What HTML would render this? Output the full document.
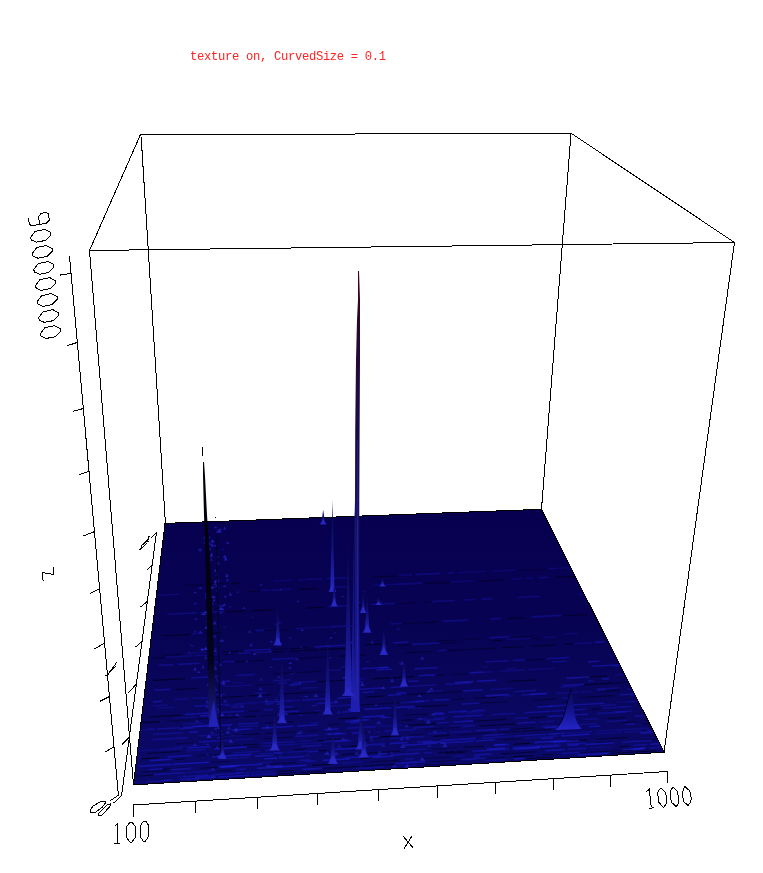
<!DOCTYPE html>
<html><head><meta charset="utf-8"><style>
html,body{margin:0;padding:0;background:#fff;}
body{width:763px;height:873px;overflow:hidden;position:relative;}
.t{position:absolute;left:190px;top:50px;will-change:transform;font-family:"Liberation Mono",monospace;font-size:12.2px;letter-spacing:-0.32px;color:#ff2222;white-space:pre;line-height:14px;}
svg{position:absolute;left:0;top:0;}
</style></head><body>
<svg width="763" height="873" viewBox="0 0 763 873">
<defs>
<linearGradient id="gPlane" x1="0" y1="0" x2="0" y2="1"><stop offset="0" stop-color="#06004f"/><stop offset="0.4" stop-color="#070352"/><stop offset="1" stop-color="#0b0a6a"/></linearGradient>
<linearGradient id="gMain" x1="0" y1="0" x2="0" y2="1"><stop offset="0" stop-color="#3a0018"/><stop offset="0.15" stop-color="#280830"/><stop offset="0.4" stop-color="#160c50"/><stop offset="0.6" stop-color="#161470"/><stop offset="0.75" stop-color="#14148e"/><stop offset="1" stop-color="#1e1eb4"/></linearGradient>
<linearGradient id="gDark" x1="0" y1="0" x2="0" y2="1"><stop offset="0" stop-color="#050520"/><stop offset="0.7" stop-color="#10106a"/><stop offset="1" stop-color="#2424b0"/></linearGradient>
<linearGradient id="gBlack" x1="0" y1="0" x2="0" y2="1"><stop offset="0" stop-color="#000008"/><stop offset="0.75" stop-color="#03031a"/><stop offset="1" stop-color="#1a1a90"/></linearGradient>
<linearGradient id="gLite" x1="0" y1="0" x2="0" y2="1"><stop offset="0" stop-color="#08084a"/><stop offset="0.55" stop-color="#12127e"/><stop offset="1" stop-color="#2626c0"/></linearGradient>
<linearGradient id="gCone" x1="0" y1="0" x2="0" y2="1"><stop offset="0" stop-color="#08084a"/><stop offset="0.5" stop-color="#12128a"/><stop offset="1" stop-color="#2424c8"/></linearGradient>
</defs>
<defs><clipPath id="cp"><polygon points="165,523.4 541.4,509.3 664,752.2 133.5,784.9"/></clipPath></defs>
<polygon points="165,523.4 541.4,509.3 664,752.2 133.5,784.9" fill="url(#gPlane)"/>
<g clip-path="url(#cp)" stroke-width="1.6">
<line x1="185.8" y1="585.4" x2="203.6" y2="584.6" stroke="#00001a" stroke-opacity="0.43" stroke-width="1.1"/><line x1="207.8" y1="584.4" x2="228.3" y2="583.5" stroke="#00001a" stroke-opacity="0.39" stroke-width="1.1"/><line x1="230.8" y1="583.4" x2="239.1" y2="583.0" stroke="#00001a" stroke-opacity="0.66" stroke-width="1.1"/><line x1="273.4" y1="581.0" x2="293.6" y2="580.0" stroke="#1c1cd0" stroke-opacity="0.20"/><line x1="297.9" y1="579.9" x2="305.5" y2="579.5" stroke="#1c1cd0" stroke-opacity="0.23"/><line x1="305.8" y1="579.5" x2="322.5" y2="578.7" stroke="#1c1cd0" stroke-opacity="0.30"/><line x1="326.8" y1="578.6" x2="347.6" y2="577.6" stroke="#1c1cd0" stroke-opacity="0.28"/><line x1="372.1" y1="577.0" x2="397.4" y2="575.9" stroke="#00001a" stroke-opacity="0.49" stroke-width="1.1"/><line x1="399.3" y1="575.3" x2="412.1" y2="574.7" stroke="#1c1cd0" stroke-opacity="0.29"/><line x1="415.4" y1="574.6" x2="440.8" y2="573.4" stroke="#1c1cd0" stroke-opacity="0.31"/><line x1="447.8" y1="573.1" x2="454.0" y2="572.8" stroke="#1c1cd0" stroke-opacity="0.31"/><line x1="457.9" y1="572.7" x2="486.4" y2="571.4" stroke="#1c1cd0" stroke-opacity="0.21"/><line x1="491.6" y1="571.2" x2="515.5" y2="570.1" stroke="#1c1cd0" stroke-opacity="0.21"/><line x1="518.3" y1="570.5" x2="546.4" y2="569.2" stroke="#00001a" stroke-opacity="0.40" stroke-width="1.1"/><line x1="548.4" y1="568.6" x2="556.9" y2="568.2" stroke="#1c1cd0" stroke-opacity="0.30"/><line x1="558.4" y1="568.2" x2="570.8" y2="567.6" stroke="#1c1cd0" stroke-opacity="0.22"/><line x1="158.0" y1="595.2" x2="179.1" y2="594.3" stroke="#1c1cd0" stroke-opacity="0.26"/><line x1="246.3" y1="591.7" x2="258.5" y2="591.1" stroke="#00001a" stroke-opacity="0.50" stroke-width="1.1"/><line x1="261.0" y1="590.5" x2="269.0" y2="590.1" stroke="#1c1cd0" stroke-opacity="0.28"/><line x1="271.0" y1="590.1" x2="291.1" y2="589.1" stroke="#1c1cd0" stroke-opacity="0.26"/><line x1="299.2" y1="589.3" x2="316.6" y2="588.5" stroke="#00001a" stroke-opacity="0.74" stroke-width="1.1"/><line x1="334.8" y1="587.1" x2="346.8" y2="586.6" stroke="#1c1cd0" stroke-opacity="0.30"/><line x1="372.9" y1="585.4" x2="393.1" y2="584.5" stroke="#1c1cd0" stroke-opacity="0.21"/><line x1="393.4" y1="584.4" x2="421.9" y2="583.1" stroke="#1c1cd0" stroke-opacity="0.30"/><line x1="424.0" y1="583.5" x2="449.3" y2="582.4" stroke="#00001a" stroke-opacity="0.48" stroke-width="1.1"/><line x1="450.7" y1="581.8" x2="473.6" y2="580.8" stroke="#1c1cd0" stroke-opacity="0.23"/><line x1="478.3" y1="581.0" x2="504.2" y2="579.9" stroke="#00001a" stroke-opacity="0.48" stroke-width="1.1"/><line x1="511.9" y1="579.0" x2="522.9" y2="578.5" stroke="#1c1cd0" stroke-opacity="0.24"/><line x1="526.6" y1="578.3" x2="534.3" y2="578.0" stroke="#1c1cd0" stroke-opacity="0.25"/><line x1="539.1" y1="577.8" x2="548.4" y2="577.3" stroke="#1c1cd0" stroke-opacity="0.32"/><line x1="556.6" y1="577.4" x2="575.1" y2="576.6" stroke="#00001a" stroke-opacity="0.61" stroke-width="1.1"/><line x1="167.3" y1="614.3" x2="196.6" y2="612.9" stroke="#1c1cd0" stroke-opacity="0.31"/><line x1="200.7" y1="612.7" x2="224.5" y2="611.5" stroke="#1c1cd0" stroke-opacity="0.37"/><line x1="225.1" y1="612.0" x2="244.5" y2="611.1" stroke="#00001a" stroke-opacity="0.76" stroke-width="1.1"/><line x1="250.8" y1="610.8" x2="274.0" y2="609.7" stroke="#00001a" stroke-opacity="0.76" stroke-width="1.1"/><line x1="307.2" y1="608.1" x2="323.5" y2="607.3" stroke="#00001a" stroke-opacity="0.74" stroke-width="1.1"/><line x1="328.4" y1="606.6" x2="349.7" y2="605.6" stroke="#1c1cd0" stroke-opacity="0.30"/><line x1="354.9" y1="605.8" x2="363.3" y2="605.4" stroke="#00001a" stroke-opacity="0.80" stroke-width="1.1"/><line x1="370.8" y1="604.5" x2="394.5" y2="603.4" stroke="#1c1cd0" stroke-opacity="0.33"/><line x1="399.5" y1="603.7" x2="416.4" y2="602.9" stroke="#00001a" stroke-opacity="0.39" stroke-width="1.1"/><line x1="422.9" y1="602.5" x2="430.0" y2="602.2" stroke="#00001a" stroke-opacity="0.57" stroke-width="1.1"/><line x1="432.0" y1="601.6" x2="455.0" y2="600.5" stroke="#1c1cd0" stroke-opacity="0.31"/><line x1="462.9" y1="600.1" x2="475.4" y2="599.5" stroke="#1c1cd0" stroke-opacity="0.25"/><line x1="481.2" y1="599.3" x2="492.5" y2="598.7" stroke="#1c1cd0" stroke-opacity="0.36"/><line x1="517.9" y1="597.5" x2="540.1" y2="596.4" stroke="#1c1cd0" stroke-opacity="0.28"/><line x1="578.5" y1="594.6" x2="584.3" y2="594.3" stroke="#1c1cd0" stroke-opacity="0.22"/><line x1="162.6" y1="635.8" x2="189.9" y2="634.4" stroke="#00001a" stroke-opacity="0.78" stroke-width="1.1"/><line x1="192.3" y1="633.8" x2="203.1" y2="633.3" stroke="#1c1cd0" stroke-opacity="0.26"/><line x1="205.0" y1="633.7" x2="221.7" y2="632.8" stroke="#00001a" stroke-opacity="0.57" stroke-width="1.1"/><line x1="255.6" y1="630.6" x2="264.0" y2="630.2" stroke="#1c1cd0" stroke-opacity="0.39"/><line x1="264.4" y1="630.7" x2="288.3" y2="629.5" stroke="#00001a" stroke-opacity="0.49" stroke-width="1.1"/><line x1="295.3" y1="628.7" x2="302.4" y2="628.3" stroke="#1c1cd0" stroke-opacity="0.30"/><line x1="302.6" y1="628.3" x2="329.5" y2="627.0" stroke="#1c1cd0" stroke-opacity="0.23"/><line x1="329.9" y1="626.9" x2="351.8" y2="625.8" stroke="#1c1cd0" stroke-opacity="0.34"/><line x1="390.0" y1="623.9" x2="401.5" y2="623.4" stroke="#1c1cd0" stroke-opacity="0.24"/><line x1="401.6" y1="623.9" x2="419.7" y2="623.0" stroke="#00001a" stroke-opacity="0.43" stroke-width="1.1"/><line x1="422.1" y1="622.8" x2="437.2" y2="622.1" stroke="#00001a" stroke-opacity="0.58" stroke-width="1.1"/><line x1="442.6" y1="621.3" x2="467.7" y2="620.1" stroke="#1c1cd0" stroke-opacity="0.37"/><line x1="490.9" y1="618.9" x2="500.7" y2="618.4" stroke="#1c1cd0" stroke-opacity="0.33"/><line x1="508.7" y1="618.5" x2="524.5" y2="617.7" stroke="#00001a" stroke-opacity="0.75" stroke-width="1.1"/><line x1="531.6" y1="616.9" x2="561.2" y2="615.4" stroke="#1c1cd0" stroke-opacity="0.34"/><line x1="563.0" y1="615.8" x2="587.2" y2="614.6" stroke="#00001a" stroke-opacity="0.64" stroke-width="1.1"/><line x1="162.4" y1="655.3" x2="182.6" y2="654.2" stroke="#00001a" stroke-opacity="0.49" stroke-width="1.1"/><line x1="190.9" y1="653.3" x2="219.1" y2="651.8" stroke="#1c1cd0" stroke-opacity="0.22"/><line x1="223.1" y1="652.1" x2="243.7" y2="651.1" stroke="#00001a" stroke-opacity="0.57" stroke-width="1.1"/><line x1="243.9" y1="650.6" x2="270.9" y2="649.2" stroke="#1c1cd0" stroke-opacity="0.40"/><line x1="272.5" y1="649.6" x2="287.7" y2="648.8" stroke="#00001a" stroke-opacity="0.41" stroke-width="1.1"/><line x1="289.1" y1="648.7" x2="308.8" y2="647.7" stroke="#00001a" stroke-opacity="0.73" stroke-width="1.1"/><line x1="315.0" y1="646.9" x2="345.5" y2="645.3" stroke="#1c1cd0" stroke-opacity="0.44"/><line x1="346.3" y1="645.8" x2="358.6" y2="645.1" stroke="#00001a" stroke-opacity="0.48" stroke-width="1.1"/><line x1="365.2" y1="644.8" x2="388.0" y2="643.6" stroke="#00001a" stroke-opacity="0.73" stroke-width="1.1"/><line x1="393.1" y1="642.8" x2="407.7" y2="642.1" stroke="#1c1cd0" stroke-opacity="0.41"/><line x1="436.7" y1="641.1" x2="456.6" y2="640.1" stroke="#00001a" stroke-opacity="0.44" stroke-width="1.1"/><line x1="461.5" y1="639.8" x2="480.8" y2="638.8" stroke="#00001a" stroke-opacity="0.36" stroke-width="1.1"/><line x1="489.6" y1="637.8" x2="509.3" y2="636.8" stroke="#1c1cd0" stroke-opacity="0.40"/><line x1="514.5" y1="637.1" x2="533.5" y2="636.1" stroke="#00001a" stroke-opacity="0.38" stroke-width="1.1"/><line x1="564.0" y1="634.0" x2="577.5" y2="633.3" stroke="#1c1cd0" stroke-opacity="0.23"/><line x1="153.1" y1="658.3" x2="164.8" y2="657.7" stroke="#00001a" stroke-opacity="0.77" stroke-width="1.1"/><line x1="165.9" y1="657.2" x2="192.3" y2="655.8" stroke="#1c1cd0" stroke-opacity="0.25"/><line x1="194.4" y1="655.7" x2="218.4" y2="654.5" stroke="#1c1cd0" stroke-opacity="0.29"/><line x1="224.1" y1="654.7" x2="233.5" y2="654.2" stroke="#00001a" stroke-opacity="0.41" stroke-width="1.1"/><line x1="238.2" y1="653.4" x2="251.3" y2="652.7" stroke="#1c1cd0" stroke-opacity="0.34"/><line x1="255.3" y1="652.5" x2="271.6" y2="651.7" stroke="#1c1cd0" stroke-opacity="0.34"/><line x1="273.0" y1="652.1" x2="285.0" y2="651.5" stroke="#00001a" stroke-opacity="0.64" stroke-width="1.1"/><line x1="289.8" y1="651.2" x2="318.0" y2="649.8" stroke="#00001a" stroke-opacity="0.74" stroke-width="1.1"/><line x1="320.1" y1="649.7" x2="345.5" y2="648.4" stroke="#00001a" stroke-opacity="0.76" stroke-width="1.1"/><line x1="398.2" y1="645.6" x2="411.0" y2="644.9" stroke="#00001a" stroke-opacity="0.47" stroke-width="1.1"/><line x1="411.9" y1="644.4" x2="439.6" y2="643.0" stroke="#1c1cd0" stroke-opacity="0.40"/><line x1="440.7" y1="643.4" x2="457.7" y2="642.5" stroke="#00001a" stroke-opacity="0.36" stroke-width="1.1"/><line x1="492.3" y1="640.7" x2="502.0" y2="640.2" stroke="#00001a" stroke-opacity="0.69" stroke-width="1.1"/><line x1="506.6" y1="639.5" x2="530.6" y2="638.2" stroke="#1c1cd0" stroke-opacity="0.22"/><line x1="531.6" y1="638.7" x2="539.4" y2="638.3" stroke="#00001a" stroke-opacity="0.58" stroke-width="1.1"/><line x1="544.5" y1="637.5" x2="555.0" y2="637.0" stroke="#1c1cd0" stroke-opacity="0.25"/><line x1="158.4" y1="665.4" x2="173.6" y2="664.6" stroke="#1c1cd0" stroke-opacity="0.34"/><line x1="177.5" y1="664.4" x2="199.7" y2="663.2" stroke="#1c1cd0" stroke-opacity="0.39"/><line x1="207.4" y1="662.8" x2="218.9" y2="662.2" stroke="#1c1cd0" stroke-opacity="0.40"/><line x1="222.7" y1="662.0" x2="234.5" y2="661.4" stroke="#1c1cd0" stroke-opacity="0.34"/><line x1="234.6" y1="661.8" x2="264.2" y2="660.3" stroke="#00001a" stroke-opacity="0.67" stroke-width="1.1"/><line x1="272.1" y1="659.4" x2="294.9" y2="658.2" stroke="#1c1cd0" stroke-opacity="0.36"/><line x1="299.6" y1="658.4" x2="331.4" y2="656.8" stroke="#00001a" stroke-opacity="0.47" stroke-width="1.1"/><line x1="339.8" y1="656.3" x2="365.5" y2="655.0" stroke="#00001a" stroke-opacity="0.72" stroke-width="1.1"/><line x1="405.3" y1="652.9" x2="431.6" y2="651.5" stroke="#00001a" stroke-opacity="0.53" stroke-width="1.1"/><line x1="438.2" y1="650.6" x2="446.9" y2="650.2" stroke="#1c1cd0" stroke-opacity="0.33"/><line x1="447.0" y1="650.7" x2="462.9" y2="649.8" stroke="#00001a" stroke-opacity="0.63" stroke-width="1.1"/><line x1="465.1" y1="649.7" x2="495.9" y2="648.1" stroke="#00001a" stroke-opacity="0.50" stroke-width="1.1"/><line x1="502.0" y1="647.8" x2="523.3" y2="646.7" stroke="#00001a" stroke-opacity="0.53" stroke-width="1.1"/><line x1="532.5" y1="646.2" x2="555.7" y2="644.9" stroke="#00001a" stroke-opacity="0.69" stroke-width="1.1"/><line x1="564.7" y1="644.5" x2="572.2" y2="644.1" stroke="#00001a" stroke-opacity="0.68" stroke-width="1.1"/><line x1="574.6" y1="643.5" x2="591.6" y2="642.6" stroke="#1c1cd0" stroke-opacity="0.25"/><line x1="595.1" y1="642.4" x2="604.5" y2="641.9" stroke="#1c1cd0" stroke-opacity="0.45"/><line x1="153.2" y1="680.4" x2="185.2" y2="678.7" stroke="#00001a" stroke-opacity="0.80" stroke-width="1.1"/><line x1="191.2" y1="677.9" x2="219.1" y2="676.4" stroke="#1c1cd0" stroke-opacity="0.38"/><line x1="235.9" y1="675.5" x2="255.1" y2="674.4" stroke="#1c1cd0" stroke-opacity="0.35"/><line x1="273.3" y1="673.9" x2="294.0" y2="672.8" stroke="#00001a" stroke-opacity="0.51" stroke-width="1.1"/><line x1="296.6" y1="672.7" x2="320.6" y2="671.4" stroke="#00001a" stroke-opacity="0.48" stroke-width="1.1"/><line x1="327.3" y1="670.5" x2="341.9" y2="669.7" stroke="#1c1cd0" stroke-opacity="0.27"/><line x1="342.3" y1="670.2" x2="353.4" y2="669.6" stroke="#00001a" stroke-opacity="0.53" stroke-width="1.1"/><line x1="361.8" y1="668.7" x2="388.2" y2="667.3" stroke="#1c1cd0" stroke-opacity="0.50"/><line x1="485.7" y1="662.0" x2="508.3" y2="660.8" stroke="#1c1cd0" stroke-opacity="0.39"/><line x1="512.6" y1="660.6" x2="524.8" y2="659.9" stroke="#1c1cd0" stroke-opacity="0.36"/><line x1="526.0" y1="660.3" x2="544.5" y2="659.3" stroke="#00001a" stroke-opacity="0.55" stroke-width="1.1"/><line x1="546.9" y1="658.7" x2="569.0" y2="657.5" stroke="#1c1cd0" stroke-opacity="0.43"/><line x1="613.6" y1="655.1" x2="615.0" y2="655.0" stroke="#1c1cd0" stroke-opacity="0.47"/><line x1="153.7" y1="690.3" x2="170.3" y2="689.4" stroke="#1c1cd0" stroke-opacity="0.42"/><line x1="175.6" y1="689.6" x2="198.2" y2="688.3" stroke="#00001a" stroke-opacity="0.69" stroke-width="1.1"/><line x1="222.3" y1="686.5" x2="252.4" y2="684.9" stroke="#1c1cd0" stroke-opacity="0.22"/><line x1="255.0" y1="685.2" x2="273.2" y2="684.2" stroke="#00001a" stroke-opacity="0.40" stroke-width="1.1"/><line x1="278.4" y1="683.4" x2="287.4" y2="683.0" stroke="#1c1cd0" stroke-opacity="0.42"/><line x1="292.6" y1="682.7" x2="316.2" y2="681.4" stroke="#1c1cd0" stroke-opacity="0.35"/><line x1="318.2" y1="681.8" x2="334.3" y2="680.9" stroke="#00001a" stroke-opacity="0.73" stroke-width="1.1"/><line x1="335.1" y1="680.8" x2="345.3" y2="680.3" stroke="#00001a" stroke-opacity="0.63" stroke-width="1.1"/><line x1="352.6" y1="679.4" x2="365.3" y2="678.7" stroke="#1c1cd0" stroke-opacity="0.28"/><line x1="373.0" y1="678.8" x2="389.8" y2="677.9" stroke="#00001a" stroke-opacity="0.80" stroke-width="1.1"/><line x1="392.9" y1="677.7" x2="414.3" y2="676.5" stroke="#00001a" stroke-opacity="0.76" stroke-width="1.1"/><line x1="418.4" y1="675.8" x2="435.2" y2="674.9" stroke="#1c1cd0" stroke-opacity="0.48"/><line x1="435.9" y1="675.3" x2="445.2" y2="674.8" stroke="#00001a" stroke-opacity="0.57" stroke-width="1.1"/><line x1="451.7" y1="674.5" x2="466.6" y2="673.6" stroke="#00001a" stroke-opacity="0.38" stroke-width="1.1"/><line x1="468.7" y1="673.0" x2="493.1" y2="671.7" stroke="#1c1cd0" stroke-opacity="0.30"/><line x1="500.0" y1="671.3" x2="525.2" y2="669.9" stroke="#1c1cd0" stroke-opacity="0.25"/><line x1="528.6" y1="669.8" x2="554.7" y2="668.3" stroke="#1c1cd0" stroke-opacity="0.24"/><line x1="592.4" y1="666.3" x2="619.9" y2="664.8" stroke="#1c1cd0" stroke-opacity="0.46"/><line x1="174.6" y1="699.5" x2="188.4" y2="698.7" stroke="#1c1cd0" stroke-opacity="0.32"/><line x1="191.9" y1="698.5" x2="209.5" y2="697.6" stroke="#1c1cd0" stroke-opacity="0.27"/><line x1="215.0" y1="697.8" x2="243.3" y2="696.2" stroke="#00001a" stroke-opacity="0.73" stroke-width="1.1"/><line x1="248.7" y1="695.9" x2="260.6" y2="695.2" stroke="#00001a" stroke-opacity="0.75" stroke-width="1.1"/><line x1="263.3" y1="695.1" x2="271.1" y2="694.6" stroke="#00001a" stroke-opacity="0.59" stroke-width="1.1"/><line x1="276.6" y1="694.3" x2="309.4" y2="692.5" stroke="#00001a" stroke-opacity="0.71" stroke-width="1.1"/><line x1="310.0" y1="692.5" x2="331.7" y2="691.3" stroke="#00001a" stroke-opacity="0.39" stroke-width="1.1"/><line x1="360.0" y1="689.2" x2="384.0" y2="687.9" stroke="#1c1cd0" stroke-opacity="0.45"/><line x1="390.2" y1="687.5" x2="404.0" y2="686.7" stroke="#1c1cd0" stroke-opacity="0.46"/><line x1="409.0" y1="686.5" x2="436.4" y2="684.9" stroke="#1c1cd0" stroke-opacity="0.31"/><line x1="445.7" y1="684.4" x2="470.8" y2="683.0" stroke="#1c1cd0" stroke-opacity="0.38"/><line x1="507.6" y1="681.5" x2="536.7" y2="679.9" stroke="#00001a" stroke-opacity="0.73" stroke-width="1.1"/><line x1="582.9" y1="677.3" x2="607.1" y2="676.0" stroke="#00001a" stroke-opacity="0.67" stroke-width="1.1"/><line x1="614.8" y1="675.0" x2="624.8" y2="674.5" stroke="#1c1cd0" stroke-opacity="0.25"/><line x1="157.1" y1="708.3" x2="174.4" y2="707.3" stroke="#1c1cd0" stroke-opacity="0.27"/><line x1="194.2" y1="706.2" x2="209.7" y2="705.3" stroke="#1c1cd0" stroke-opacity="0.43"/><line x1="217.3" y1="704.9" x2="229.3" y2="704.2" stroke="#1c1cd0" stroke-opacity="0.36"/><line x1="235.0" y1="703.9" x2="266.6" y2="702.1" stroke="#1c1cd0" stroke-opacity="0.24"/><line x1="268.4" y1="702.0" x2="281.5" y2="701.3" stroke="#1c1cd0" stroke-opacity="0.45"/><line x1="287.3" y1="700.9" x2="300.5" y2="700.2" stroke="#1c1cd0" stroke-opacity="0.30"/><line x1="302.2" y1="700.1" x2="329.7" y2="698.5" stroke="#1c1cd0" stroke-opacity="0.39"/><line x1="337.7" y1="698.1" x2="357.8" y2="697.0" stroke="#1c1cd0" stroke-opacity="0.52"/><line x1="366.7" y1="697.0" x2="383.1" y2="696.0" stroke="#00001a" stroke-opacity="0.78" stroke-width="1.1"/><line x1="387.8" y1="695.3" x2="401.0" y2="694.5" stroke="#1c1cd0" stroke-opacity="0.54"/><line x1="408.8" y1="694.6" x2="426.3" y2="693.6" stroke="#00001a" stroke-opacity="0.58" stroke-width="1.1"/><line x1="429.0" y1="693.5" x2="462.7" y2="691.6" stroke="#00001a" stroke-opacity="0.46" stroke-width="1.1"/><line x1="462.9" y1="691.1" x2="482.8" y2="689.9" stroke="#1c1cd0" stroke-opacity="0.48"/><line x1="489.7" y1="689.6" x2="513.2" y2="688.2" stroke="#1c1cd0" stroke-opacity="0.26"/><line x1="562.4" y1="685.5" x2="584.0" y2="684.3" stroke="#1c1cd0" stroke-opacity="0.47"/><line x1="584.0" y1="684.8" x2="613.3" y2="683.1" stroke="#00001a" stroke-opacity="0.72" stroke-width="1.1"/><line x1="614.1" y1="683.1" x2="628.4" y2="682.3" stroke="#00001a" stroke-opacity="0.39" stroke-width="1.1"/><line x1="148.6" y1="717.0" x2="181.7" y2="715.1" stroke="#00001a" stroke-opacity="0.74" stroke-width="1.1"/><line x1="184.7" y1="714.5" x2="213.3" y2="712.8" stroke="#1c1cd0" stroke-opacity="0.54"/><line x1="214.2" y1="712.8" x2="243.9" y2="711.1" stroke="#1c1cd0" stroke-opacity="0.40"/><line x1="249.0" y1="711.3" x2="260.6" y2="710.7" stroke="#00001a" stroke-opacity="0.49" stroke-width="1.1"/><line x1="263.7" y1="710.0" x2="273.1" y2="709.4" stroke="#1c1cd0" stroke-opacity="0.37"/><line x1="280.1" y1="709.5" x2="297.2" y2="708.6" stroke="#00001a" stroke-opacity="0.40" stroke-width="1.1"/><line x1="329.0" y1="706.3" x2="354.0" y2="704.8" stroke="#1c1cd0" stroke-opacity="0.34"/><line x1="360.9" y1="705.0" x2="374.7" y2="704.2" stroke="#00001a" stroke-opacity="0.56" stroke-width="1.1"/><line x1="374.8" y1="704.2" x2="408.9" y2="702.2" stroke="#00001a" stroke-opacity="0.44" stroke-width="1.1"/><line x1="415.0" y1="701.4" x2="430.1" y2="700.5" stroke="#1c1cd0" stroke-opacity="0.40"/><line x1="433.1" y1="700.4" x2="449.5" y2="699.4" stroke="#1c1cd0" stroke-opacity="0.45"/><line x1="452.0" y1="699.8" x2="464.8" y2="699.1" stroke="#00001a" stroke-opacity="0.50" stroke-width="1.1"/><line x1="474.1" y1="698.5" x2="496.6" y2="697.2" stroke="#00001a" stroke-opacity="0.50" stroke-width="1.1"/><line x1="504.7" y1="696.3" x2="514.6" y2="695.7" stroke="#1c1cd0" stroke-opacity="0.23"/><line x1="521.2" y1="695.3" x2="547.7" y2="693.8" stroke="#1c1cd0" stroke-opacity="0.35"/><line x1="555.9" y1="693.4" x2="579.2" y2="692.1" stroke="#1c1cd0" stroke-opacity="0.28"/><line x1="580.8" y1="692.0" x2="591.5" y2="691.4" stroke="#1c1cd0" stroke-opacity="0.23"/><line x1="600.5" y1="691.3" x2="619.4" y2="690.3" stroke="#00001a" stroke-opacity="0.64" stroke-width="1.1"/><line x1="626.9" y1="689.3" x2="632.1" y2="689.0" stroke="#1c1cd0" stroke-opacity="0.32"/><line x1="141.3" y1="722.6" x2="159.6" y2="721.6" stroke="#00001a" stroke-opacity="0.79" stroke-width="1.1"/><line x1="167.4" y1="721.1" x2="192.7" y2="719.7" stroke="#00001a" stroke-opacity="0.36" stroke-width="1.1"/><line x1="196.0" y1="719.5" x2="212.6" y2="718.5" stroke="#00001a" stroke-opacity="0.40" stroke-width="1.1"/><line x1="216.4" y1="718.3" x2="237.6" y2="717.1" stroke="#00001a" stroke-opacity="0.72" stroke-width="1.1"/><line x1="243.6" y1="716.8" x2="255.3" y2="716.1" stroke="#00001a" stroke-opacity="0.76" stroke-width="1.1"/><line x1="260.7" y1="715.8" x2="277.7" y2="714.8" stroke="#00001a" stroke-opacity="0.41" stroke-width="1.1"/><line x1="284.8" y1="714.4" x2="318.9" y2="712.5" stroke="#00001a" stroke-opacity="0.67" stroke-width="1.1"/><line x1="346.1" y1="710.4" x2="358.9" y2="709.7" stroke="#1c1cd0" stroke-opacity="0.29"/><line x1="364.6" y1="709.4" x2="390.9" y2="707.8" stroke="#1c1cd0" stroke-opacity="0.55"/><line x1="394.5" y1="707.6" x2="414.5" y2="706.5" stroke="#1c1cd0" stroke-opacity="0.57"/><line x1="415.8" y1="706.9" x2="447.7" y2="705.1" stroke="#00001a" stroke-opacity="0.60" stroke-width="1.1"/><line x1="477.6" y1="703.4" x2="507.2" y2="701.7" stroke="#00001a" stroke-opacity="0.41" stroke-width="1.1"/><line x1="533.0" y1="700.2" x2="556.0" y2="698.9" stroke="#00001a" stroke-opacity="0.43" stroke-width="1.1"/><line x1="561.4" y1="698.1" x2="570.8" y2="697.6" stroke="#1c1cd0" stroke-opacity="0.27"/><line x1="580.6" y1="697.5" x2="613.5" y2="695.6" stroke="#00001a" stroke-opacity="0.49" stroke-width="1.1"/><line x1="620.1" y1="694.7" x2="634.6" y2="693.9" stroke="#1c1cd0" stroke-opacity="0.42"/><line x1="140.4" y1="730.0" x2="153.3" y2="729.2" stroke="#1c1cd0" stroke-opacity="0.26"/><line x1="157.1" y1="729.0" x2="180.2" y2="727.7" stroke="#1c1cd0" stroke-opacity="0.41"/><line x1="182.8" y1="727.5" x2="205.9" y2="726.2" stroke="#1c1cd0" stroke-opacity="0.45"/><line x1="206.3" y1="726.2" x2="232.1" y2="724.7" stroke="#1c1cd0" stroke-opacity="0.58"/><line x1="238.1" y1="724.3" x2="258.4" y2="723.1" stroke="#1c1cd0" stroke-opacity="0.45"/><line x1="265.3" y1="723.2" x2="293.6" y2="721.6" stroke="#00001a" stroke-opacity="0.57" stroke-width="1.1"/><line x1="338.0" y1="719.0" x2="357.3" y2="717.9" stroke="#00001a" stroke-opacity="0.76" stroke-width="1.1"/><line x1="362.6" y1="717.1" x2="384.4" y2="715.9" stroke="#1c1cd0" stroke-opacity="0.56"/><line x1="387.6" y1="716.2" x2="396.6" y2="715.7" stroke="#00001a" stroke-opacity="0.76" stroke-width="1.1"/><line x1="403.9" y1="715.2" x2="427.7" y2="713.9" stroke="#00001a" stroke-opacity="0.49" stroke-width="1.1"/><line x1="433.6" y1="713.0" x2="443.0" y2="712.5" stroke="#1c1cd0" stroke-opacity="0.38"/><line x1="448.0" y1="712.2" x2="466.4" y2="711.1" stroke="#1c1cd0" stroke-opacity="0.47"/><line x1="471.6" y1="710.8" x2="485.6" y2="710.0" stroke="#1c1cd0" stroke-opacity="0.36"/><line x1="536.9" y1="707.1" x2="566.4" y2="705.3" stroke="#1c1cd0" stroke-opacity="0.49"/><line x1="572.1" y1="705.0" x2="604.3" y2="703.2" stroke="#1c1cd0" stroke-opacity="0.51"/><line x1="627.7" y1="701.8" x2="638.3" y2="701.2" stroke="#1c1cd0" stroke-opacity="0.33"/><line x1="152.9" y1="734.4" x2="182.9" y2="732.7" stroke="#1c1cd0" stroke-opacity="0.34"/><line x1="188.8" y1="732.3" x2="197.6" y2="731.8" stroke="#1c1cd0" stroke-opacity="0.56"/><line x1="231.7" y1="729.8" x2="252.3" y2="728.7" stroke="#1c1cd0" stroke-opacity="0.32"/><line x1="261.5" y1="728.1" x2="293.8" y2="726.2" stroke="#1c1cd0" stroke-opacity="0.54"/><line x1="297.3" y1="726.0" x2="317.9" y2="724.8" stroke="#1c1cd0" stroke-opacity="0.56"/><line x1="327.8" y1="724.8" x2="340.9" y2="724.0" stroke="#00001a" stroke-opacity="0.44" stroke-width="1.1"/><line x1="349.8" y1="723.0" x2="358.7" y2="722.5" stroke="#1c1cd0" stroke-opacity="0.49"/><line x1="401.3" y1="720.5" x2="412.5" y2="719.8" stroke="#00001a" stroke-opacity="0.77" stroke-width="1.1"/><line x1="417.0" y1="719.1" x2="426.7" y2="718.5" stroke="#1c1cd0" stroke-opacity="0.32"/><line x1="433.8" y1="718.1" x2="446.7" y2="717.3" stroke="#1c1cd0" stroke-opacity="0.30"/><line x1="453.4" y1="716.9" x2="482.7" y2="715.2" stroke="#1c1cd0" stroke-opacity="0.47"/><line x1="491.6" y1="714.7" x2="515.3" y2="713.3" stroke="#1c1cd0" stroke-opacity="0.32"/><line x1="524.6" y1="712.8" x2="550.5" y2="711.3" stroke="#1c1cd0" stroke-opacity="0.46"/><line x1="551.4" y1="711.2" x2="586.1" y2="709.2" stroke="#1c1cd0" stroke-opacity="0.41"/><line x1="591.4" y1="709.4" x2="600.2" y2="708.9" stroke="#00001a" stroke-opacity="0.48" stroke-width="1.1"/><line x1="602.7" y1="708.3" x2="632.3" y2="706.5" stroke="#1c1cd0" stroke-opacity="0.32"/><line x1="639.9" y1="706.1" x2="640.7" y2="706.0" stroke="#1c1cd0" stroke-opacity="0.42"/><line x1="152.4" y1="739.7" x2="187.4" y2="737.6" stroke="#1c1cd0" stroke-opacity="0.39"/><line x1="218.2" y1="736.3" x2="230.8" y2="735.6" stroke="#00001a" stroke-opacity="0.64" stroke-width="1.1"/><line x1="234.4" y1="735.3" x2="260.2" y2="733.8" stroke="#00001a" stroke-opacity="0.58" stroke-width="1.1"/><line x1="265.3" y1="733.5" x2="296.4" y2="731.7" stroke="#00001a" stroke-opacity="0.58" stroke-width="1.1"/><line x1="305.9" y1="731.2" x2="318.3" y2="730.4" stroke="#00001a" stroke-opacity="0.42" stroke-width="1.1"/><line x1="324.5" y1="729.6" x2="338.6" y2="728.7" stroke="#1c1cd0" stroke-opacity="0.52"/><line x1="346.5" y1="728.3" x2="376.0" y2="726.6" stroke="#1c1cd0" stroke-opacity="0.40"/><line x1="378.2" y1="726.4" x2="401.9" y2="725.0" stroke="#1c1cd0" stroke-opacity="0.21"/><line x1="407.9" y1="725.2" x2="435.3" y2="723.6" stroke="#00001a" stroke-opacity="0.74" stroke-width="1.1"/><line x1="437.1" y1="723.0" x2="448.9" y2="722.3" stroke="#1c1cd0" stroke-opacity="0.41"/><line x1="453.3" y1="722.0" x2="473.1" y2="720.9" stroke="#1c1cd0" stroke-opacity="0.53"/><line x1="473.8" y1="721.3" x2="506.5" y2="719.4" stroke="#00001a" stroke-opacity="0.59" stroke-width="1.1"/><line x1="514.5" y1="718.4" x2="528.7" y2="717.6" stroke="#1c1cd0" stroke-opacity="0.33"/><line x1="529.1" y1="718.1" x2="545.4" y2="717.1" stroke="#00001a" stroke-opacity="0.59" stroke-width="1.1"/><line x1="548.1" y1="716.5" x2="572.0" y2="715.1" stroke="#1c1cd0" stroke-opacity="0.54"/><line x1="573.7" y1="715.0" x2="588.3" y2="714.1" stroke="#1c1cd0" stroke-opacity="0.49"/><line x1="596.7" y1="713.6" x2="626.1" y2="711.9" stroke="#1c1cd0" stroke-opacity="0.37"/><line x1="176.0" y1="743.9" x2="196.3" y2="742.8" stroke="#00001a" stroke-opacity="0.37" stroke-width="1.1"/><line x1="198.8" y1="742.1" x2="231.2" y2="740.2" stroke="#1c1cd0" stroke-opacity="0.37"/><line x1="234.2" y1="740.0" x2="253.7" y2="738.9" stroke="#1c1cd0" stroke-opacity="0.21"/><line x1="263.8" y1="738.8" x2="292.7" y2="737.1" stroke="#00001a" stroke-opacity="0.45" stroke-width="1.1"/><line x1="295.3" y1="736.4" x2="318.3" y2="735.1" stroke="#1c1cd0" stroke-opacity="0.40"/><line x1="327.7" y1="734.5" x2="345.5" y2="733.5" stroke="#1c1cd0" stroke-opacity="0.62"/><line x1="351.7" y1="733.1" x2="360.4" y2="732.6" stroke="#1c1cd0" stroke-opacity="0.48"/><line x1="361.0" y1="733.0" x2="378.2" y2="732.0" stroke="#00001a" stroke-opacity="0.74" stroke-width="1.1"/><line x1="384.2" y1="731.2" x2="416.6" y2="729.3" stroke="#1c1cd0" stroke-opacity="0.37"/><line x1="425.1" y1="729.3" x2="443.4" y2="728.2" stroke="#00001a" stroke-opacity="0.45" stroke-width="1.1"/><line x1="446.9" y1="728.0" x2="459.6" y2="727.2" stroke="#00001a" stroke-opacity="0.42" stroke-width="1.1"/><line x1="461.7" y1="726.6" x2="475.3" y2="725.8" stroke="#1c1cd0" stroke-opacity="0.33"/><line x1="479.8" y1="726.0" x2="515.1" y2="724.0" stroke="#00001a" stroke-opacity="0.74" stroke-width="1.1"/><line x1="517.2" y1="723.3" x2="535.5" y2="722.3" stroke="#1c1cd0" stroke-opacity="0.49"/><line x1="539.2" y1="722.0" x2="554.5" y2="721.1" stroke="#1c1cd0" stroke-opacity="0.28"/><line x1="583.0" y1="719.5" x2="598.1" y2="718.6" stroke="#1c1cd0" stroke-opacity="0.27"/><line x1="607.6" y1="718.5" x2="625.2" y2="717.5" stroke="#00001a" stroke-opacity="0.68" stroke-width="1.1"/><line x1="634.4" y1="716.4" x2="642.6" y2="715.9" stroke="#1c1cd0" stroke-opacity="0.36"/><line x1="643.5" y1="715.9" x2="645.6" y2="715.8" stroke="#1c1cd0" stroke-opacity="0.53"/><line x1="138.4" y1="750.9" x2="157.2" y2="749.7" stroke="#1c1cd0" stroke-opacity="0.22"/><line x1="158.7" y1="749.7" x2="183.1" y2="748.2" stroke="#1c1cd0" stroke-opacity="0.34"/><line x1="187.4" y1="748.0" x2="210.3" y2="746.6" stroke="#1c1cd0" stroke-opacity="0.51"/><line x1="213.0" y1="746.9" x2="241.0" y2="745.3" stroke="#00001a" stroke-opacity="0.42" stroke-width="1.1"/><line x1="243.1" y1="745.1" x2="258.6" y2="744.2" stroke="#00001a" stroke-opacity="0.53" stroke-width="1.1"/><line x1="262.6" y1="743.5" x2="294.5" y2="741.6" stroke="#1c1cd0" stroke-opacity="0.33"/><line x1="298.1" y1="741.4" x2="311.8" y2="740.6" stroke="#1c1cd0" stroke-opacity="0.21"/><line x1="318.2" y1="740.7" x2="341.8" y2="739.3" stroke="#00001a" stroke-opacity="0.79" stroke-width="1.1"/><line x1="373.5" y1="737.4" x2="400.5" y2="735.8" stroke="#00001a" stroke-opacity="0.78" stroke-width="1.1"/><line x1="409.4" y1="735.3" x2="423.6" y2="734.4" stroke="#00001a" stroke-opacity="0.39" stroke-width="1.1"/><line x1="428.0" y1="733.7" x2="446.7" y2="732.6" stroke="#1c1cd0" stroke-opacity="0.37"/><line x1="450.0" y1="732.4" x2="471.6" y2="731.1" stroke="#1c1cd0" stroke-opacity="0.27"/><line x1="475.7" y1="730.8" x2="496.7" y2="729.6" stroke="#1c1cd0" stroke-opacity="0.49"/><line x1="499.2" y1="729.5" x2="509.4" y2="728.8" stroke="#1c1cd0" stroke-opacity="0.38"/><line x1="511.0" y1="729.3" x2="535.0" y2="727.8" stroke="#00001a" stroke-opacity="0.60" stroke-width="1.1"/><line x1="542.1" y1="726.9" x2="550.4" y2="726.4" stroke="#1c1cd0" stroke-opacity="0.36"/><line x1="551.1" y1="726.4" x2="570.1" y2="725.2" stroke="#1c1cd0" stroke-opacity="0.42"/><line x1="576.1" y1="724.9" x2="596.9" y2="723.7" stroke="#1c1cd0" stroke-opacity="0.31"/><line x1="620.3" y1="722.8" x2="635.3" y2="721.9" stroke="#00001a" stroke-opacity="0.43" stroke-width="1.1"/><line x1="146.1" y1="753.5" x2="180.3" y2="751.5" stroke="#00001a" stroke-opacity="0.63" stroke-width="1.1"/><line x1="186.7" y1="750.6" x2="206.0" y2="749.4" stroke="#1c1cd0" stroke-opacity="0.32"/><line x1="214.5" y1="748.9" x2="246.9" y2="747.0" stroke="#1c1cd0" stroke-opacity="0.60"/><line x1="247.3" y1="747.5" x2="258.8" y2="746.8" stroke="#00001a" stroke-opacity="0.49" stroke-width="1.1"/><line x1="262.5" y1="746.1" x2="297.7" y2="744.0" stroke="#1c1cd0" stroke-opacity="0.28"/><line x1="300.0" y1="743.8" x2="326.9" y2="742.2" stroke="#1c1cd0" stroke-opacity="0.20"/><line x1="332.4" y1="741.9" x2="351.2" y2="740.8" stroke="#1c1cd0" stroke-opacity="0.42"/><line x1="357.9" y1="740.9" x2="381.0" y2="739.5" stroke="#00001a" stroke-opacity="0.60" stroke-width="1.1"/><line x1="389.5" y1="738.5" x2="424.4" y2="736.4" stroke="#1c1cd0" stroke-opacity="0.35"/><line x1="433.5" y1="736.4" x2="450.0" y2="735.4" stroke="#00001a" stroke-opacity="0.66" stroke-width="1.1"/><line x1="457.1" y1="735.0" x2="491.9" y2="732.9" stroke="#00001a" stroke-opacity="0.42" stroke-width="1.1"/><line x1="498.2" y1="732.5" x2="519.7" y2="731.3" stroke="#00001a" stroke-opacity="0.52" stroke-width="1.1"/><line x1="522.7" y1="731.1" x2="551.4" y2="729.4" stroke="#00001a" stroke-opacity="0.46" stroke-width="1.1"/><line x1="554.0" y1="728.7" x2="570.8" y2="727.7" stroke="#1c1cd0" stroke-opacity="0.43"/><line x1="572.1" y1="727.6" x2="581.6" y2="727.1" stroke="#1c1cd0" stroke-opacity="0.24"/><line x1="588.8" y1="726.7" x2="599.7" y2="726.0" stroke="#1c1cd0" stroke-opacity="0.54"/><line x1="625.7" y1="724.5" x2="634.9" y2="723.9" stroke="#1c1cd0" stroke-opacity="0.42"/><line x1="643.1" y1="723.9" x2="649.3" y2="723.6" stroke="#00001a" stroke-opacity="0.46" stroke-width="1.1"/><line x1="141.7" y1="758.9" x2="158.9" y2="757.9" stroke="#00001a" stroke-opacity="0.73" stroke-width="1.1"/><line x1="167.4" y1="756.9" x2="191.2" y2="755.5" stroke="#1c1cd0" stroke-opacity="0.52"/><line x1="197.6" y1="755.6" x2="228.9" y2="753.7" stroke="#00001a" stroke-opacity="0.41" stroke-width="1.1"/><line x1="232.8" y1="753.0" x2="259.5" y2="751.4" stroke="#1c1cd0" stroke-opacity="0.28"/><line x1="293.9" y1="749.8" x2="305.5" y2="749.1" stroke="#00001a" stroke-opacity="0.54" stroke-width="1.1"/><line x1="341.1" y1="747.0" x2="350.2" y2="746.5" stroke="#00001a" stroke-opacity="0.40" stroke-width="1.1"/><line x1="350.7" y1="746.4" x2="366.5" y2="745.5" stroke="#00001a" stroke-opacity="0.80" stroke-width="1.1"/><line x1="367.7" y1="744.9" x2="384.8" y2="743.9" stroke="#1c1cd0" stroke-opacity="0.44"/><line x1="389.8" y1="743.6" x2="408.1" y2="742.5" stroke="#1c1cd0" stroke-opacity="0.56"/><line x1="416.7" y1="742.0" x2="432.5" y2="741.0" stroke="#1c1cd0" stroke-opacity="0.48"/><line x1="440.4" y1="740.6" x2="475.9" y2="738.4" stroke="#1c1cd0" stroke-opacity="0.51"/><line x1="481.5" y1="738.1" x2="511.9" y2="736.3" stroke="#1c1cd0" stroke-opacity="0.28"/><line x1="513.0" y1="736.2" x2="547.2" y2="734.2" stroke="#1c1cd0" stroke-opacity="0.42"/><line x1="548.4" y1="734.1" x2="565.3" y2="733.1" stroke="#1c1cd0" stroke-opacity="0.45"/><line x1="566.8" y1="733.0" x2="592.2" y2="731.5" stroke="#1c1cd0" stroke-opacity="0.30"/><line x1="597.2" y1="731.2" x2="615.3" y2="730.1" stroke="#1c1cd0" stroke-opacity="0.22"/><line x1="616.0" y1="730.1" x2="649.0" y2="728.1" stroke="#1c1cd0" stroke-opacity="0.24"/><line x1="149.8" y1="760.6" x2="171.3" y2="759.3" stroke="#1c1cd0" stroke-opacity="0.57"/><line x1="175.4" y1="759.5" x2="184.8" y2="759.0" stroke="#00001a" stroke-opacity="0.65" stroke-width="1.1"/><line x1="215.8" y1="756.6" x2="251.8" y2="754.4" stroke="#1c1cd0" stroke-opacity="0.58"/><line x1="259.3" y1="754.0" x2="272.0" y2="753.2" stroke="#1c1cd0" stroke-opacity="0.28"/><line x1="273.2" y1="753.1" x2="283.1" y2="752.6" stroke="#1c1cd0" stroke-opacity="0.54"/><line x1="286.3" y1="752.4" x2="308.7" y2="751.0" stroke="#1c1cd0" stroke-opacity="0.30"/><line x1="318.6" y1="750.9" x2="326.6" y2="750.4" stroke="#00001a" stroke-opacity="0.71" stroke-width="1.1"/><line x1="334.8" y1="749.4" x2="363.5" y2="747.7" stroke="#1c1cd0" stroke-opacity="0.57"/><line x1="402.6" y1="745.4" x2="437.4" y2="743.3" stroke="#1c1cd0" stroke-opacity="0.52"/><line x1="440.0" y1="743.1" x2="473.6" y2="741.1" stroke="#1c1cd0" stroke-opacity="0.46"/><line x1="475.9" y1="741.0" x2="494.7" y2="739.8" stroke="#1c1cd0" stroke-opacity="0.50"/><line x1="503.1" y1="739.8" x2="521.2" y2="738.8" stroke="#00001a" stroke-opacity="0.51" stroke-width="1.1"/><line x1="524.1" y1="738.1" x2="557.5" y2="736.1" stroke="#1c1cd0" stroke-opacity="0.24"/><line x1="561.0" y1="735.9" x2="589.8" y2="734.1" stroke="#1c1cd0" stroke-opacity="0.54"/><line x1="595.5" y1="733.8" x2="622.5" y2="732.2" stroke="#1c1cd0" stroke-opacity="0.25"/><line x1="624.0" y1="732.1" x2="641.7" y2="731.0" stroke="#1c1cd0" stroke-opacity="0.20"/><line x1="646.9" y1="730.7" x2="653.0" y2="730.3" stroke="#1c1cd0" stroke-opacity="0.44"/><line x1="138.9" y1="766.4" x2="171.9" y2="764.4" stroke="#1c1cd0" stroke-opacity="0.55"/><line x1="173.0" y1="764.3" x2="209.0" y2="762.2" stroke="#1c1cd0" stroke-opacity="0.65"/><line x1="211.3" y1="762.5" x2="230.8" y2="761.4" stroke="#00001a" stroke-opacity="0.43" stroke-width="1.1"/><line x1="264.1" y1="758.8" x2="277.1" y2="758.1" stroke="#1c1cd0" stroke-opacity="0.66"/><line x1="278.7" y1="758.0" x2="304.6" y2="756.4" stroke="#1c1cd0" stroke-opacity="0.50"/><line x1="341.1" y1="754.7" x2="366.9" y2="753.1" stroke="#00001a" stroke-opacity="0.61" stroke-width="1.1"/><line x1="368.1" y1="753.1" x2="399.8" y2="751.1" stroke="#00001a" stroke-opacity="0.55" stroke-width="1.1"/><line x1="406.7" y1="750.2" x2="426.5" y2="749.0" stroke="#1c1cd0" stroke-opacity="0.31"/><line x1="432.8" y1="749.1" x2="456.9" y2="747.7" stroke="#00001a" stroke-opacity="0.36" stroke-width="1.1"/><line x1="463.5" y1="747.3" x2="484.0" y2="746.1" stroke="#00001a" stroke-opacity="0.62" stroke-width="1.1"/><line x1="493.7" y1="745.0" x2="505.8" y2="744.2" stroke="#1c1cd0" stroke-opacity="0.66"/><line x1="513.5" y1="744.3" x2="530.3" y2="743.3" stroke="#00001a" stroke-opacity="0.80" stroke-width="1.1"/><line x1="534.4" y1="742.5" x2="567.0" y2="740.5" stroke="#1c1cd0" stroke-opacity="0.66"/><line x1="572.1" y1="740.7" x2="586.6" y2="739.9" stroke="#00001a" stroke-opacity="0.64" stroke-width="1.1"/><line x1="596.4" y1="739.3" x2="627.9" y2="737.4" stroke="#00001a" stroke-opacity="0.58" stroke-width="1.1"/><line x1="655.2" y1="735.7" x2="655.4" y2="735.7" stroke="#00001a" stroke-opacity="0.55" stroke-width="1.1"/><line x1="148.8" y1="769.7" x2="162.2" y2="768.9" stroke="#1c1cd0" stroke-opacity="0.50"/><line x1="163.0" y1="769.3" x2="186.8" y2="767.9" stroke="#00001a" stroke-opacity="0.57" stroke-width="1.1"/><line x1="260.1" y1="762.9" x2="272.3" y2="762.2" stroke="#1c1cd0" stroke-opacity="0.25"/><line x1="299.1" y1="760.6" x2="310.3" y2="759.9" stroke="#1c1cd0" stroke-opacity="0.38"/><line x1="345.5" y1="757.8" x2="381.7" y2="755.6" stroke="#1c1cd0" stroke-opacity="0.50"/><line x1="390.8" y1="755.0" x2="419.5" y2="753.3" stroke="#1c1cd0" stroke-opacity="0.52"/><line x1="424.0" y1="753.0" x2="432.3" y2="752.5" stroke="#1c1cd0" stroke-opacity="0.35"/><line x1="438.9" y1="752.6" x2="454.7" y2="751.6" stroke="#00001a" stroke-opacity="0.66" stroke-width="1.1"/><line x1="456.6" y1="751.5" x2="468.1" y2="750.8" stroke="#00001a" stroke-opacity="0.56" stroke-width="1.1"/><line x1="487.0" y1="749.2" x2="505.1" y2="748.1" stroke="#1c1cd0" stroke-opacity="0.67"/><line x1="512.3" y1="747.6" x2="541.3" y2="745.9" stroke="#1c1cd0" stroke-opacity="0.35"/><line x1="545.5" y1="746.1" x2="557.6" y2="745.4" stroke="#00001a" stroke-opacity="0.54" stroke-width="1.1"/><line x1="566.1" y1="744.4" x2="585.7" y2="743.2" stroke="#1c1cd0" stroke-opacity="0.44"/><line x1="595.5" y1="743.1" x2="613.3" y2="742.0" stroke="#00001a" stroke-opacity="0.46" stroke-width="1.1"/><line x1="638.3" y1="740.5" x2="657.3" y2="739.3" stroke="#00001a" stroke-opacity="0.55" stroke-width="1.1"/><line x1="141.2" y1="772.0" x2="170.4" y2="770.2" stroke="#00001a" stroke-opacity="0.55" stroke-width="1.1"/><line x1="171.0" y1="769.6" x2="190.9" y2="768.4" stroke="#1c1cd0" stroke-opacity="0.41"/><line x1="200.9" y1="768.3" x2="217.2" y2="767.3" stroke="#00001a" stroke-opacity="0.65" stroke-width="1.1"/><line x1="219.7" y1="766.7" x2="239.4" y2="765.5" stroke="#1c1cd0" stroke-opacity="0.63"/><line x1="242.0" y1="765.3" x2="262.0" y2="764.1" stroke="#1c1cd0" stroke-opacity="0.59"/><line x1="270.9" y1="764.1" x2="295.7" y2="762.6" stroke="#00001a" stroke-opacity="0.39" stroke-width="1.1"/><line x1="305.1" y1="761.5" x2="315.5" y2="760.9" stroke="#1c1cd0" stroke-opacity="0.38"/><line x1="323.0" y1="760.4" x2="350.1" y2="758.8" stroke="#1c1cd0" stroke-opacity="0.63"/><line x1="360.0" y1="758.7" x2="368.5" y2="758.1" stroke="#00001a" stroke-opacity="0.56" stroke-width="1.1"/><line x1="372.3" y1="757.4" x2="393.5" y2="756.1" stroke="#1c1cd0" stroke-opacity="0.52"/><line x1="446.0" y1="753.4" x2="465.2" y2="752.3" stroke="#00001a" stroke-opacity="0.64" stroke-width="1.1"/><line x1="472.5" y1="751.3" x2="509.0" y2="749.1" stroke="#1c1cd0" stroke-opacity="0.42"/><line x1="513.2" y1="748.8" x2="539.9" y2="747.2" stroke="#1c1cd0" stroke-opacity="0.67"/><line x1="542.1" y1="747.1" x2="560.6" y2="746.0" stroke="#1c1cd0" stroke-opacity="0.39"/><line x1="568.4" y1="745.5" x2="578.6" y2="744.9" stroke="#1c1cd0" stroke-opacity="0.51"/><line x1="585.1" y1="744.5" x2="614.3" y2="742.7" stroke="#1c1cd0" stroke-opacity="0.59"/><line x1="621.9" y1="742.2" x2="652.1" y2="740.4" stroke="#1c1cd0" stroke-opacity="0.42"/><line x1="135.0" y1="776.2" x2="153.0" y2="775.1" stroke="#00001a" stroke-opacity="0.59" stroke-width="1.1"/><line x1="154.2" y1="774.6" x2="184.8" y2="772.7" stroke="#1c1cd0" stroke-opacity="0.44"/><line x1="186.1" y1="772.6" x2="210.4" y2="771.1" stroke="#1c1cd0" stroke-opacity="0.24"/><line x1="215.8" y1="771.3" x2="232.2" y2="770.3" stroke="#00001a" stroke-opacity="0.46" stroke-width="1.1"/><line x1="236.5" y1="769.5" x2="246.0" y2="769.0" stroke="#1c1cd0" stroke-opacity="0.42"/><line x1="274.1" y1="767.2" x2="306.5" y2="765.3" stroke="#1c1cd0" stroke-opacity="0.67"/><line x1="312.0" y1="765.4" x2="331.6" y2="764.2" stroke="#00001a" stroke-opacity="0.74" stroke-width="1.1"/><line x1="341.7" y1="763.1" x2="361.6" y2="761.9" stroke="#1c1cd0" stroke-opacity="0.27"/><line x1="370.2" y1="761.9" x2="399.2" y2="760.1" stroke="#00001a" stroke-opacity="0.42" stroke-width="1.1"/><line x1="404.8" y1="759.3" x2="413.5" y2="758.7" stroke="#1c1cd0" stroke-opacity="0.35"/><line x1="423.7" y1="758.6" x2="450.1" y2="757.0" stroke="#00001a" stroke-opacity="0.37" stroke-width="1.1"/><line x1="454.5" y1="756.2" x2="464.6" y2="755.6" stroke="#1c1cd0" stroke-opacity="0.25"/><line x1="474.3" y1="755.0" x2="491.6" y2="754.0" stroke="#1c1cd0" stroke-opacity="0.52"/><line x1="501.0" y1="753.9" x2="536.2" y2="751.7" stroke="#00001a" stroke-opacity="0.58" stroke-width="1.1"/><line x1="545.7" y1="750.7" x2="564.9" y2="749.5" stroke="#1c1cd0" stroke-opacity="0.56"/><line x1="567.6" y1="749.3" x2="586.1" y2="748.2" stroke="#1c1cd0" stroke-opacity="0.43"/><line x1="589.9" y1="748.0" x2="610.2" y2="746.7" stroke="#1c1cd0" stroke-opacity="0.22"/><line x1="619.0" y1="746.7" x2="628.7" y2="746.1" stroke="#00001a" stroke-opacity="0.60" stroke-width="1.1"/><line x1="632.9" y1="745.3" x2="647.2" y2="744.5" stroke="#1c1cd0" stroke-opacity="0.38"/><line x1="650.5" y1="744.3" x2="659.7" y2="743.7" stroke="#1c1cd0" stroke-opacity="0.56"/><line x1="183.0" y1="776.7" x2="208.3" y2="775.1" stroke="#1c1cd0" stroke-opacity="0.35"/><line x1="214.7" y1="774.7" x2="239.7" y2="773.2" stroke="#1c1cd0" stroke-opacity="0.44"/><line x1="245.2" y1="772.9" x2="275.0" y2="771.0" stroke="#1c1cd0" stroke-opacity="0.25"/><line x1="277.6" y1="771.4" x2="293.4" y2="770.4" stroke="#00001a" stroke-opacity="0.54" stroke-width="1.1"/><line x1="302.4" y1="769.4" x2="322.0" y2="768.2" stroke="#1c1cd0" stroke-opacity="0.53"/><line x1="322.9" y1="768.6" x2="359.4" y2="766.4" stroke="#00001a" stroke-opacity="0.50" stroke-width="1.1"/><line x1="362.7" y1="766.2" x2="394.4" y2="764.2" stroke="#00001a" stroke-opacity="0.64" stroke-width="1.1"/><line x1="395.0" y1="763.7" x2="425.1" y2="761.8" stroke="#1c1cd0" stroke-opacity="0.51"/><line x1="430.9" y1="762.0" x2="465.7" y2="759.8" stroke="#00001a" stroke-opacity="0.36" stroke-width="1.1"/><line x1="475.5" y1="759.2" x2="505.3" y2="757.4" stroke="#00001a" stroke-opacity="0.35" stroke-width="1.1"/><line x1="513.1" y1="756.9" x2="533.1" y2="755.7" stroke="#00001a" stroke-opacity="0.79" stroke-width="1.1"/><line x1="542.8" y1="755.1" x2="552.9" y2="754.5" stroke="#00001a" stroke-opacity="0.55" stroke-width="1.1"/><line x1="560.8" y1="753.5" x2="579.7" y2="752.4" stroke="#1c1cd0" stroke-opacity="0.41"/><line x1="580.9" y1="752.8" x2="598.1" y2="751.7" stroke="#00001a" stroke-opacity="0.38" stroke-width="1.1"/><line x1="599.3" y1="751.7" x2="631.4" y2="749.7" stroke="#00001a" stroke-opacity="0.60" stroke-width="1.1"/><line x1="632.6" y1="749.1" x2="644.0" y2="748.4" stroke="#1c1cd0" stroke-opacity="0.67"/><line x1="649.9" y1="748.1" x2="661.5" y2="747.3" stroke="#1c1cd0" stroke-opacity="0.40"/><line x1="163.7" y1="780.5" x2="172.5" y2="779.9" stroke="#1c1cd0" stroke-opacity="0.39"/><line x1="179.6" y1="779.5" x2="214.6" y2="777.3" stroke="#1c1cd0" stroke-opacity="0.54"/><line x1="218.7" y1="777.1" x2="249.3" y2="775.2" stroke="#1c1cd0" stroke-opacity="0.57"/><line x1="251.0" y1="775.1" x2="276.0" y2="773.5" stroke="#1c1cd0" stroke-opacity="0.37"/><line x1="277.7" y1="773.9" x2="295.8" y2="772.8" stroke="#00001a" stroke-opacity="0.58" stroke-width="1.1"/><line x1="300.0" y1="772.6" x2="324.6" y2="771.1" stroke="#00001a" stroke-opacity="0.51" stroke-width="1.1"/><line x1="356.2" y1="768.6" x2="384.4" y2="766.9" stroke="#1c1cd0" stroke-opacity="0.33"/><line x1="392.1" y1="766.4" x2="416.8" y2="764.9" stroke="#1c1cd0" stroke-opacity="0.23"/><line x1="425.5" y1="764.9" x2="444.4" y2="763.7" stroke="#00001a" stroke-opacity="0.54" stroke-width="1.1"/><line x1="484.8" y1="760.7" x2="506.0" y2="759.4" stroke="#1c1cd0" stroke-opacity="0.31"/><line x1="513.9" y1="758.9" x2="524.9" y2="758.2" stroke="#1c1cd0" stroke-opacity="0.62"/><line x1="525.2" y1="758.7" x2="553.5" y2="757.0" stroke="#00001a" stroke-opacity="0.60" stroke-width="1.1"/><line x1="577.4" y1="755.0" x2="608.8" y2="753.1" stroke="#1c1cd0" stroke-opacity="0.59"/><line x1="611.1" y1="753.4" x2="624.9" y2="752.6" stroke="#00001a" stroke-opacity="0.62" stroke-width="1.1"/><line x1="626.1" y1="752.5" x2="656.3" y2="750.7" stroke="#00001a" stroke-opacity="0.75" stroke-width="1.1"/><line x1="323.6" y1="741.3" x2="348.1" y2="739.9" stroke="#2020d0" stroke-opacity="0.44"/><line x1="559.9" y1="687.2" x2="578.9" y2="686.1" stroke="#2020d0" stroke-opacity="0.26"/><line x1="152.8" y1="705.8" x2="168.1" y2="705.0" stroke="#2020d0" stroke-opacity="0.25"/><line x1="265.5" y1="704.0" x2="273.0" y2="703.6" stroke="#2020d0" stroke-opacity="0.34"/><line x1="281.1" y1="701.0" x2="291.4" y2="700.5" stroke="#2020d0" stroke-opacity="0.35"/><line x1="218.8" y1="766.6" x2="242.0" y2="765.2" stroke="#2020d0" stroke-opacity="0.49"/><line x1="413.8" y1="727.8" x2="433.7" y2="726.7" stroke="#2020d0" stroke-opacity="0.36"/><line x1="606.2" y1="721.6" x2="627.1" y2="720.4" stroke="#2020d0" stroke-opacity="0.25"/><line x1="587.7" y1="661.9" x2="599.3" y2="661.3" stroke="#2020d0" stroke-opacity="0.46"/><line x1="362.0" y1="692.5" x2="374.0" y2="691.8" stroke="#2020d0" stroke-opacity="0.44"/><line x1="400.7" y1="762.7" x2="417.9" y2="761.6" stroke="#2020d0" stroke-opacity="0.29"/><line x1="602.1" y1="679.0" x2="609.1" y2="678.6" stroke="#2020d0" stroke-opacity="0.53"/><line x1="174.4" y1="746.9" x2="197.9" y2="745.5" stroke="#2020d0" stroke-opacity="0.19"/><line x1="199.3" y1="735.9" x2="224.2" y2="734.5" stroke="#2020d0" stroke-opacity="0.27"/><line x1="167.2" y1="769.6" x2="186.4" y2="768.4" stroke="#2020d0" stroke-opacity="0.18"/><line x1="414.5" y1="668.9" x2="437.7" y2="667.6" stroke="#2020d0" stroke-opacity="0.42"/><line x1="544.7" y1="744.9" x2="560.8" y2="744.0" stroke="#2020d0" stroke-opacity="0.18"/><line x1="232.0" y1="730.0" x2="247.6" y2="729.1" stroke="#2020d0" stroke-opacity="0.29"/><line x1="238.5" y1="726.8" x2="257.6" y2="725.7" stroke="#2020d0" stroke-opacity="0.32"/><line x1="179.2" y1="728.9" x2="193.9" y2="728.0" stroke="#2020d0" stroke-opacity="0.37"/><line x1="430.7" y1="763.8" x2="438.9" y2="763.3" stroke="#2020d0" stroke-opacity="0.27"/><line x1="485.6" y1="695.9" x2="508.9" y2="694.6" stroke="#2020d0" stroke-opacity="0.54"/><line x1="622.2" y1="749.8" x2="645.6" y2="748.3" stroke="#2020d0" stroke-opacity="0.52"/><line x1="376.1" y1="670.0" x2="391.9" y2="669.1" stroke="#2020d0" stroke-opacity="0.42"/><line x1="449.0" y1="726.1" x2="473.0" y2="724.7" stroke="#2020d0" stroke-opacity="0.18"/><line x1="620.1" y1="706.7" x2="625.8" y2="706.3" stroke="#2020d0" stroke-opacity="0.19"/><line x1="635.2" y1="740.8" x2="640.9" y2="740.5" stroke="#2020d0" stroke-opacity="0.16"/><line x1="493.7" y1="745.5" x2="509.7" y2="744.5" stroke="#2020d0" stroke-opacity="0.38"/><line x1="553.0" y1="734.6" x2="558.2" y2="734.3" stroke="#2020d0" stroke-opacity="0.18"/><line x1="641.2" y1="733.0" x2="653.9" y2="732.2" stroke="#2020d0" stroke-opacity="0.31"/><line x1="311.6" y1="705.8" x2="316.8" y2="705.5" stroke="#2020d0" stroke-opacity="0.46"/><line x1="426.8" y1="691.8" x2="441.9" y2="691.0" stroke="#2020d0" stroke-opacity="0.28"/><line x1="369.8" y1="737.1" x2="379.7" y2="736.5" stroke="#2020d0" stroke-opacity="0.50"/><line x1="215.8" y1="694.7" x2="225.5" y2="694.2" stroke="#2020d0" stroke-opacity="0.34"/><line x1="308.4" y1="751.9" x2="318.5" y2="751.3" stroke="#2020d0" stroke-opacity="0.41"/><line x1="396.3" y1="693.3" x2="406.1" y2="692.8" stroke="#2020d0" stroke-opacity="0.50"/><line x1="255.3" y1="693.4" x2="265.9" y2="692.8" stroke="#2020d0" stroke-opacity="0.28"/><line x1="483.2" y1="735.6" x2="504.6" y2="734.3" stroke="#2020d0" stroke-opacity="0.37"/><line x1="506.8" y1="668.8" x2="516.1" y2="668.3" stroke="#2020d0" stroke-opacity="0.24"/><line x1="630.2" y1="695.6" x2="635.3" y2="695.3" stroke="#2020d0" stroke-opacity="0.29"/><line x1="654.6" y1="743.9" x2="659.6" y2="743.6" stroke="#2020d0" stroke-opacity="0.20"/><line x1="541.0" y1="738.5" x2="553.2" y2="737.8" stroke="#2020d0" stroke-opacity="0.47"/><line x1="282.6" y1="711.9" x2="299.2" y2="711.0" stroke="#2020d0" stroke-opacity="0.45"/><line x1="547.8" y1="706.5" x2="553.1" y2="706.2" stroke="#2020d0" stroke-opacity="0.35"/><line x1="173.4" y1="718.3" x2="196.3" y2="717.0" stroke="#2020d0" stroke-opacity="0.21"/><line x1="566.4" y1="678.3" x2="589.7" y2="677.0" stroke="#2020d0" stroke-opacity="0.52"/><line x1="597.8" y1="690.2" x2="605.5" y2="689.8" stroke="#2020d0" stroke-opacity="0.44"/><line x1="235.7" y1="773.0" x2="243.9" y2="772.5" stroke="#2020d0" stroke-opacity="0.42"/><line x1="515.1" y1="749.5" x2="540.2" y2="748.0" stroke="#2020d0" stroke-opacity="0.33"/><line x1="200.5" y1="715.9" x2="210.8" y2="715.3" stroke="#2020d0" stroke-opacity="0.53"/><line x1="232.7" y1="683.0" x2="244.0" y2="682.4" stroke="#2020d0" stroke-opacity="0.17"/><line x1="231.4" y1="707.4" x2="238.7" y2="707.0" stroke="#2020d0" stroke-opacity="0.36"/><line x1="424.4" y1="720.2" x2="444.7" y2="719.0" stroke="#2020d0" stroke-opacity="0.36"/><line x1="177.1" y1="776.7" x2="187.1" y2="776.1" stroke="#2020d0" stroke-opacity="0.18"/><line x1="513.4" y1="691.7" x2="536.3" y2="690.4" stroke="#2020d0" stroke-opacity="0.35"/><line x1="302.3" y1="688.3" x2="317.9" y2="687.5" stroke="#2020d0" stroke-opacity="0.27"/><line x1="639.6" y1="732.9" x2="653.8" y2="732.1" stroke="#2020d0" stroke-opacity="0.39"/><line x1="377.7" y1="754.1" x2="386.9" y2="753.6" stroke="#2020d0" stroke-opacity="0.53"/><line x1="146.7" y1="781.8" x2="168.1" y2="780.5" stroke="#2020d0" stroke-opacity="0.31"/><line x1="222.3" y1="681.6" x2="230.3" y2="681.1" stroke="#2020d0" stroke-opacity="0.44"/><line x1="152.9" y1="701.9" x2="161.9" y2="701.4" stroke="#2020d0" stroke-opacity="0.47"/><line x1="466.0" y1="713.6" x2="480.3" y2="712.8" stroke="#2020d0" stroke-opacity="0.22"/><line x1="288.9" y1="674.2" x2="294.4" y2="673.9" stroke="#2020d0" stroke-opacity="0.25"/><line x1="325.6" y1="734.0" x2="340.2" y2="733.1" stroke="#2020d0" stroke-opacity="0.40"/><line x1="316.3" y1="703.6" x2="338.4" y2="702.4" stroke="#2020d0" stroke-opacity="0.38"/><line x1="408.0" y1="708.6" x2="422.0" y2="707.8" stroke="#2020d0" stroke-opacity="0.28"/><line x1="257.1" y1="768.4" x2="282.0" y2="766.9" stroke="#2020d0" stroke-opacity="0.49"/><line x1="220.1" y1="767.4" x2="236.0" y2="766.4" stroke="#2020d0" stroke-opacity="0.54"/><line x1="225.7" y1="705.8" x2="244.6" y2="704.7" stroke="#2020d0" stroke-opacity="0.24"/><line x1="218.3" y1="736.7" x2="242.5" y2="735.3" stroke="#2020d0" stroke-opacity="0.26"/><line x1="471.2" y1="672.6" x2="482.6" y2="672.0" stroke="#2020d0" stroke-opacity="0.37"/><line x1="600.7" y1="705.6" x2="615.9" y2="704.7" stroke="#2020d0" stroke-opacity="0.30"/><line x1="378.9" y1="667.9" x2="388.7" y2="667.4" stroke="#2020d0" stroke-opacity="0.38"/><line x1="372.9" y1="732.5" x2="379.8" y2="732.1" stroke="#2020d0" stroke-opacity="0.35"/><line x1="459.8" y1="712.2" x2="484.1" y2="710.8" stroke="#2020d0" stroke-opacity="0.26"/><line x1="182.5" y1="724.2" x2="203.3" y2="723.0" stroke="#2020d0" stroke-opacity="0.24"/><line x1="550.6" y1="741.9" x2="561.1" y2="741.3" stroke="#2020d0" stroke-opacity="0.51"/><line x1="352.8" y1="720.6" x2="368.9" y2="719.7" stroke="#2020d0" stroke-opacity="0.53"/><line x1="380.6" y1="717.6" x2="391.4" y2="717.0" stroke="#2020d0" stroke-opacity="0.49"/><line x1="311.0" y1="723.0" x2="319.9" y2="722.5" stroke="#2020d0" stroke-opacity="0.24"/><line x1="553.6" y1="742.3" x2="579.2" y2="740.7" stroke="#2020d0" stroke-opacity="0.52"/><line x1="545.0" y1="727.8" x2="564.7" y2="726.6" stroke="#2020d0" stroke-opacity="0.47"/><line x1="227.3" y1="758.6" x2="249.4" y2="757.3" stroke="#2020d0" stroke-opacity="0.27"/><line x1="588.0" y1="680.9" x2="593.3" y2="680.6" stroke="#2020d0" stroke-opacity="0.35"/><line x1="529.7" y1="694.2" x2="546.6" y2="693.2" stroke="#2020d0" stroke-opacity="0.51"/><line x1="473.5" y1="757.1" x2="480.1" y2="756.7" stroke="#2020d0" stroke-opacity="0.42"/><line x1="611.9" y1="666.1" x2="620.3" y2="665.7" stroke="#2020d0" stroke-opacity="0.27"/><line x1="477.2" y1="681.3" x2="496.6" y2="680.2" stroke="#2020d0" stroke-opacity="0.54"/><line x1="201.8" y1="741.7" x2="221.6" y2="740.5" stroke="#2020d0" stroke-opacity="0.17"/><line x1="536.7" y1="746.7" x2="558.3" y2="745.4" stroke="#2020d0" stroke-opacity="0.50"/><line x1="614.4" y1="712.0" x2="632.3" y2="711.0" stroke="#2020d0" stroke-opacity="0.35"/><line x1="315.3" y1="710.6" x2="320.7" y2="710.3" stroke="#2020d0" stroke-opacity="0.21"/><line x1="254.5" y1="756.4" x2="273.2" y2="755.3" stroke="#2020d0" stroke-opacity="0.46"/><line x1="401.3" y1="737.2" x2="412.9" y2="736.6" stroke="#2020d0" stroke-opacity="0.26"/><line x1="455.0" y1="682.6" x2="473.0" y2="681.6" stroke="#2020d0" stroke-opacity="0.53"/><line x1="595.5" y1="689.2" x2="618.2" y2="687.9" stroke="#2020d0" stroke-opacity="0.27"/><line x1="460.8" y1="759.9" x2="486.4" y2="758.3" stroke="#2020d0" stroke-opacity="0.46"/><line x1="278.6" y1="707.4" x2="293.7" y2="706.6" stroke="#2020d0" stroke-opacity="0.35"/><line x1="551.9" y1="662.0" x2="566.7" y2="661.2" stroke="#2020d0" stroke-opacity="0.34"/><line x1="265.3" y1="750.5" x2="274.5" y2="749.9" stroke="#2020d0" stroke-opacity="0.38"/><line x1="301.5" y1="696.7" x2="307.7" y2="696.3" stroke="#2020d0" stroke-opacity="0.17"/><line x1="400.2" y1="702.8" x2="423.7" y2="701.4" stroke="#2020d0" stroke-opacity="0.41"/><line x1="342.0" y1="712.1" x2="351.6" y2="711.6" stroke="#2020d0" stroke-opacity="0.34"/><line x1="198.4" y1="776.7" x2="212.8" y2="775.8" stroke="#2020d0" stroke-opacity="0.42"/><line x1="422.8" y1="742.9" x2="441.2" y2="741.8" stroke="#2020d0" stroke-opacity="0.53"/><line x1="266.5" y1="766.7" x2="283.1" y2="765.7" stroke="#2020d0" stroke-opacity="0.55"/><line x1="234.4" y1="730.0" x2="254.8" y2="728.8" stroke="#2020d0" stroke-opacity="0.17"/><line x1="407.8" y1="681.5" x2="417.8" y2="680.9" stroke="#2020d0" stroke-opacity="0.44"/><line x1="300.9" y1="746.5" x2="321.8" y2="745.3" stroke="#2020d0" stroke-opacity="0.41"/><line x1="371.2" y1="740.2" x2="385.2" y2="739.4" stroke="#2020d0" stroke-opacity="0.19"/><line x1="615.7" y1="702.5" x2="638.2" y2="701.2" stroke="#2020d0" stroke-opacity="0.17"/><line x1="272.7" y1="680.8" x2="290.6" y2="679.8" stroke="#2020d0" stroke-opacity="0.33"/><line x1="347.4" y1="682.5" x2="363.1" y2="681.7" stroke="#2020d0" stroke-opacity="0.45"/><line x1="461.8" y1="704.1" x2="480.1" y2="703.0" stroke="#2020d0" stroke-opacity="0.40"/><line x1="480.7" y1="667.0" x2="487.8" y2="666.6" stroke="#2020d0" stroke-opacity="0.17"/><line x1="148.5" y1="729.4" x2="154.9" y2="729.0" stroke="#2020d0" stroke-opacity="0.31"/><line x1="192.8" y1="726.3" x2="216.7" y2="724.9" stroke="#2020d0" stroke-opacity="0.49"/><line x1="433.2" y1="714.2" x2="444.5" y2="713.6" stroke="#2020d0" stroke-opacity="0.54"/><line x1="289.4" y1="684.9" x2="298.4" y2="684.4" stroke="#2020d0" stroke-opacity="0.50"/><line x1="345.0" y1="721.6" x2="358.0" y2="720.8" stroke="#2020d0" stroke-opacity="0.50"/><polygon points="372.3,640.5 374.3,643.5 370.2,643.5" fill="#2424c0" fill-opacity="0.48"/><polygon points="289.9,666.3 292.1,668.8 287.7,668.8" fill="#2424c0" fill-opacity="0.43"/><polygon points="286.1,712.5 288.6,714.9 283.6,714.9" fill="#2424c0" fill-opacity="0.61"/><polygon points="300.0,680.9 302.3,684.7 297.7,684.7" fill="#2424c0" fill-opacity="0.48"/><polygon points="402.2,660.9 404.4,664.7 400.0,664.7" fill="#2424c0" fill-opacity="0.61"/><polygon points="347.6,669.0 349.9,672.3 345.4,672.3" fill="#2424c0" fill-opacity="0.42"/><polygon points="428.2,719.6 430.9,723.3 425.6,723.3" fill="#2424c0" fill-opacity="0.57"/><polygon points="344.1,676.6 346.4,678.7 341.8,678.7" fill="#2424c0" fill-opacity="0.61"/><polygon points="428.9,689.9 431.3,692.3 426.5,692.3" fill="#2424c0" fill-opacity="0.58"/><polygon points="280.5,588.1 282.1,590.5 279.0,590.5" fill="#2424c0" fill-opacity="0.40"/><polygon points="237.2,713.3 239.7,716.0 234.7,716.0" fill="#2424c0" fill-opacity="0.70"/><polygon points="398.3,628.1 400.2,629.7 396.4,629.7" fill="#2424c0" fill-opacity="0.53"/><polygon points="401.7,737.6 404.5,740.5 398.9,740.5" fill="#2424c0" fill-opacity="0.54"/><polygon points="378.6,720.3 381.2,724.3 376.0,724.3" fill="#2424c0" fill-opacity="0.53"/><polygon points="351.8,640.7 353.8,643.4 349.8,643.4" fill="#2424c0" fill-opacity="0.52"/><polygon points="213.7,773.4 216.6,778.0 210.7,778.0" fill="#2424c0" fill-opacity="0.43"/><polygon points="428.5,721.3 431.1,723.7 425.8,723.7" fill="#2424c0" fill-opacity="0.53"/><polygon points="306.4,695.4 308.8,697.3 304.0,697.3" fill="#2424c0" fill-opacity="0.55"/><polygon points="356.7,752.0 359.6,754.6 353.8,754.6" fill="#2424c0" fill-opacity="0.62"/><polygon points="218.8,679.7 221.1,682.8 216.6,682.8" fill="#2424c0" fill-opacity="0.48"/><polygon points="431.4,687.5 433.8,690.6 429.0,690.6" fill="#2424c0" fill-opacity="0.68"/><polygon points="367.6,660.5 369.8,662.2 365.5,662.2" fill="#2424c0" fill-opacity="0.42"/><polygon points="359.4,717.9 362.0,722.1 356.8,722.1" fill="#2424c0" fill-opacity="0.45"/><polygon points="270.2,649.4 272.2,652.0 268.2,652.0" fill="#2424c0" fill-opacity="0.31"/><polygon points="343.6,665.7 345.8,667.6 341.4,667.6" fill="#2424c0" fill-opacity="0.42"/><polygon points="429.2,744.5 432.0,747.0 426.3,747.0" fill="#2424c0" fill-opacity="0.37"/><polygon points="207.1,618.8 208.9,621.5 205.4,621.5" fill="#2424c0" fill-opacity="0.60"/><polygon points="301.0,645.6 303.0,648.6 299.0,648.6" fill="#2424c0" fill-opacity="0.31"/><polygon points="407.5,737.5 410.3,739.8 404.8,739.8" fill="#2424c0" fill-opacity="0.58"/><polygon points="267.5,724.3 270.1,728.6 264.8,728.6" fill="#2424c0" fill-opacity="0.39"/><polygon points="260.5,687.6 262.8,690.3 258.1,690.3" fill="#2424c0" fill-opacity="0.62"/><polygon points="336.0,698.5 338.4,702.9 333.5,702.9" fill="#2424c0" fill-opacity="0.39"/><polygon points="330.9,636.7 332.9,638.5 329.0,638.5" fill="#2424c0" fill-opacity="0.69"/><polygon points="290.4,661.7 292.5,664.1 288.2,664.1" fill="#2424c0" fill-opacity="0.63"/><polygon points="360.9,755.6 363.8,757.8 358.0,757.8" fill="#2424c0" fill-opacity="0.44"/><polygon points="235.9,727.3 238.5,731.7 233.3,731.7" fill="#2424c0" fill-opacity="0.65"/><polygon points="271.2,640.4 273.2,642.4 269.2,642.4" fill="#2424c0" fill-opacity="0.59"/><polygon points="342.8,595.4 344.4,597.0 341.2,597.0" fill="#2424c0" fill-opacity="0.64"/><polygon points="328.8,696.9 331.3,698.7 326.4,698.7" fill="#2424c0" fill-opacity="0.32"/><polygon points="422.3,656.5 424.4,659.4 420.1,659.4" fill="#2424c0" fill-opacity="0.64"/><polygon points="211.4,605.9 213.1,607.5 209.7,607.5" fill="#2424c0" fill-opacity="0.58"/><polygon points="249.7,630.1 251.5,632.8 247.8,632.8" fill="#2424c0" fill-opacity="0.58"/><polygon points="296.7,658.1 298.8,660.2 294.6,660.2" fill="#2424c0" fill-opacity="0.52"/><polygon points="271.2,665.9 273.3,667.9 269.0,667.9" fill="#2424c0" fill-opacity="0.42"/><polygon points="189.2,651.5 191.3,653.6 187.2,653.6" fill="#2424c0" fill-opacity="0.54"/><polygon points="212.0,650.8 214.1,654.0 210.0,654.0" fill="#2424c0" fill-opacity="0.49"/><polygon points="260.2,693.1 262.5,697.0 257.8,697.0" fill="#2424c0" fill-opacity="0.60"/><polygon points="349.9,707.4 352.4,711.1 347.4,711.1" fill="#2424c0" fill-opacity="0.50"/><polygon points="278.9,675.5 281.2,678.2 276.7,678.2" fill="#2424c0" fill-opacity="0.49"/><polygon points="315.9,693.2 318.3,696.9 313.5,696.9" fill="#2424c0" fill-opacity="0.66"/><polygon points="191.2,643.8 193.1,645.9 189.2,645.9" fill="#2424c0" fill-opacity="0.31"/><polygon points="343.3,737.5 346.0,740.0 340.5,740.0" fill="#2424c0" fill-opacity="0.38"/><polygon points="402.8,743.9 405.6,747.9 399.9,747.9" fill="#2424c0" fill-opacity="0.58"/><polygon points="298.6,731.4 301.3,734.3 295.9,734.3" fill="#2424c0" fill-opacity="0.52"/><polygon points="445.0,742.3 447.9,747.2 442.2,747.2" fill="#2424c0" fill-opacity="0.63"/><polygon points="243.7,606.2 245.3,609.0 242.0,609.0" fill="#2424c0" fill-opacity="0.52"/><polygon points="259.7,693.7 262.0,697.6 257.3,697.6" fill="#2424c0" fill-opacity="0.51"/><polygon points="196.9,774.0 199.8,779.5 193.9,779.5" fill="#2424c0" fill-opacity="0.31"/><polygon points="276.3,622.7 278.1,625.2 274.5,625.2" fill="#2424c0" fill-opacity="0.34"/><polygon points="419.5,694.1 422.0,696.9 417.1,696.9" fill="#2424c0" fill-opacity="0.60"/><polygon points="329.5,705.0 332.0,707.0 327.0,707.0" fill="#2424c0" fill-opacity="0.49"/><polygon points="359.8,753.2 362.7,755.5 356.9,755.5" fill="#2424c0" fill-opacity="0.48"/><polygon points="266.6,699.1 269.0,702.2 264.2,702.2" fill="#2424c0" fill-opacity="0.55"/><polygon points="237.7,590.6 239.3,592.9 236.2,592.9" fill="#2424c0" fill-opacity="0.39"/><polygon points="358.6,601.2 360.3,603.1 356.9,603.1" fill="#2424c0" fill-opacity="0.68"/><polygon points="207.0,704.9 209.4,708.2 204.5,708.2" fill="#2424c0" fill-opacity="0.40"/><polygon points="371.3,737.0 374.1,741.2 368.5,741.2" fill="#2424c0" fill-opacity="0.32"/><polygon points="364.7,590.5 366.3,592.2 363.1,592.2" fill="#2424c0" fill-opacity="0.38"/><polygon points="225.3,595.3 226.9,597.4 223.7,597.4" fill="#2424c0" fill-opacity="0.68"/><polygon points="246.8,659.3 248.9,662.6 244.7,662.6" fill="#2424c0" fill-opacity="0.37"/><polygon points="338.8,709.4 341.3,713.8 336.2,713.8" fill="#2424c0" fill-opacity="0.32"/><polygon points="278.4,701.1 280.8,705.0 275.9,705.0" fill="#2424c0" fill-opacity="0.40"/><polygon points="227.8,730.4 230.5,733.5 225.2,733.5" fill="#2424c0" fill-opacity="0.69"/><polygon points="251.3,642.9 253.2,646.2 249.3,646.2" fill="#2424c0" fill-opacity="0.57"/><polygon points="230.2,605.6 231.9,607.4 228.5,607.4" fill="#2424c0" fill-opacity="0.42"/><polygon points="365.7,741.3 368.5,746.4 362.9,746.4" fill="#2424c0" fill-opacity="0.57"/><polygon points="278.9,712.3 281.5,716.0 276.4,716.0" fill="#2424c0" fill-opacity="0.50"/><polygon points="298.1,600.3 299.7,602.3 296.4,602.3" fill="#2424c0" fill-opacity="0.51"/><polygon points="195.2,601.6 196.8,604.4 193.6,604.4" fill="#2424c0" fill-opacity="0.45"/><polygon points="220.1,662.9 222.2,665.7 218.0,665.7" fill="#2424c0" fill-opacity="0.67"/><polygon points="302.2,628.6 304.1,631.0 300.4,631.0" fill="#2424c0" fill-opacity="0.61"/><polygon points="241.8,705.3 244.3,707.4 239.4,707.4" fill="#2424c0" fill-opacity="0.59"/><polygon points="381.8,601.8 383.5,603.4 380.1,603.4" fill="#2424c0" fill-opacity="0.38"/><polygon points="392.2,678.8 394.5,681.9 389.9,681.9" fill="#2424c0" fill-opacity="0.60"/><polygon points="369.5,731.1 372.2,732.8 366.8,732.8" fill="#2424c0" fill-opacity="0.63"/><polygon points="224.3,626.1 226.2,627.7 222.5,627.7" fill="#2424c0" fill-opacity="0.31"/><polygon points="280.2,754.8 283.0,756.6 277.3,756.6" fill="#2424c0" fill-opacity="0.32"/><polygon points="339.2,743.4 342.0,748.2 336.4,748.2" fill="#2424c0" fill-opacity="0.31"/><polygon points="252.7,616.3 254.4,618.1 250.9,618.1" fill="#2424c0" fill-opacity="0.34"/><polygon points="335.2,631.9 337.1,633.7 333.2,633.7" fill="#2424c0" fill-opacity="0.37"/><polygon points="276.3,698.4 278.7,700.3 273.9,700.3" fill="#2424c0" fill-opacity="0.53"/><polygon points="279.2,692.5 281.6,695.3 276.9,695.3" fill="#2424c0" fill-opacity="0.32"/><polygon points="230.2,714.1 232.7,716.6 227.7,716.6" fill="#2424c0" fill-opacity="0.30"/><polygon points="336.1,752.0 339.0,755.0 333.3,755.0" fill="#2424c0" fill-opacity="0.52"/><polygon points="212.7,767.7 215.6,770.6 209.8,770.6" fill="#2424c0" fill-opacity="0.58"/><polygon points="355.6,662.8 357.7,666.5 353.4,666.5" fill="#2424c0" fill-opacity="0.32"/><polygon points="254.7,651.9 256.7,655.0 252.6,655.0" fill="#2424c0" fill-opacity="0.61"/><polygon points="420.8,717.6 423.4,719.7 418.2,719.7" fill="#2424c0" fill-opacity="0.46"/><polygon points="383.3,744.7 386.2,746.6 380.5,746.6" fill="#2424c0" fill-opacity="0.69"/><polygon points="406.8,724.5 409.4,727.2 404.1,727.2" fill="#2424c0" fill-opacity="0.54"/><polygon points="422.3,757.0 425.3,760.8 419.4,760.8" fill="#2424c0" fill-opacity="0.66"/><polygon points="407.4,763.7 410.4,767.9 404.4,767.9" fill="#2424c0" fill-opacity="0.68"/><polygon points="279.5,621.6 281.3,624.0 277.7,624.0" fill="#2424c0" fill-opacity="0.35"/><polygon points="195.0,742.6 197.7,746.3 192.3,746.3" fill="#2424c0" fill-opacity="0.41"/><polygon points="330.2,656.6 332.3,658.5 328.1,658.5" fill="#2424c0" fill-opacity="0.48"/><polygon points="443.0,741.3 445.8,743.7 440.1,743.7" fill="#2424c0" fill-opacity="0.45"/><polygon points="229.0,725.7 231.7,730.0 226.4,730.0" fill="#2424c0" fill-opacity="0.38"/><polygon points="267.3,703.0 269.8,704.5 264.9,704.5" fill="#2424c0" fill-opacity="0.30"/><polygon points="261.2,583.6 262.7,585.4 259.7,585.4" fill="#2424c0" fill-opacity="0.70"/><polygon points="197.1,718.7 199.6,722.4 194.6,722.4" fill="#2424c0" fill-opacity="0.39"/><polygon points="362.4,682.2 364.8,686.0 360.1,686.0" fill="#2424c0" fill-opacity="0.67"/><polygon points="261.2,678.1 263.5,680.6 259.0,680.6" fill="#2424c0" fill-opacity="0.43"/><polygon points="300.8,729.9 303.5,733.7 298.1,733.7" fill="#2424c0" fill-opacity="0.36"/><polygon points="434.9,730.2 437.6,732.4 432.1,732.4" fill="#2424c0" fill-opacity="0.55"/><polygon points="195.1,630.2 196.9,632.4 193.2,632.4" fill="#2424c0" fill-opacity="0.37"/><polygon points="329.4,726.4 332.0,730.2 326.7,730.2" fill="#2424c0" fill-opacity="0.69"/><polygon points="210.7,604.8 212.3,606.3 209.0,606.3" fill="#2424c0" fill-opacity="0.48"/><polygon points="360.7,740.0 363.5,743.5 358.0,743.5" fill="#2424c0" fill-opacity="0.64"/><polygon points="211.2,671.2 213.4,674.2 209.1,674.2" fill="#2424c0" fill-opacity="0.31"/><polygon points="192.9,645.2 194.8,647.0 190.9,647.0" fill="#2424c0" fill-opacity="0.33"/><polygon points="213.9,699.9 216.3,703.1 211.5,703.1" fill="#2424c0" fill-opacity="0.63"/><polygon points="213.2,665.8 215.4,668.9 211.1,668.9" fill="#2424c0" fill-opacity="0.59"/><polygon points="327.0,751.3 329.9,754.9 324.2,754.9" fill="#2424c0" fill-opacity="0.65"/><polygon points="433.0,712.9 435.6,715.4 430.4,715.4" fill="#2424c0" fill-opacity="0.61"/><polygon points="300.9,714.1 303.5,715.6 298.4,715.6" fill="#2424c0" fill-opacity="0.49"/><polygon points="327.6,644.4 329.6,647.0 325.6,647.0" fill="#2424c0" fill-opacity="0.50"/><polygon points="218.0,603.8 219.7,606.1 216.4,606.1" fill="#2424c0" fill-opacity="0.57"/><polygon points="394.4,764.7 397.4,767.4 391.4,767.4" fill="#2424c0" fill-opacity="0.48"/><polygon points="383.5,686.5 385.8,689.1 381.1,689.1" fill="#2424c0" fill-opacity="0.67"/><polygon points="281.5,688.1 283.9,690.9 279.2,690.9" fill="#2424c0" fill-opacity="0.44"/><polygon points="188.7,778.3 191.7,781.4 185.7,781.4" fill="#2424c0" fill-opacity="0.33"/><polygon points="218.9,725.9 221.5,727.9 216.3,727.9" fill="#2424c0" fill-opacity="0.47"/><polygon points="376.1,703.3 378.6,706.1 373.6,706.1" fill="#2424c0" fill-opacity="0.42"/><polygon points="399.5,661.3 401.7,663.3 397.3,663.3" fill="#2424c0" fill-opacity="0.30"/><polygon points="307.8,754.4 310.7,756.4 304.9,756.4" fill="#2424c0" fill-opacity="0.35"/><polygon points="379.9,751.0 382.7,752.7 377.0,752.7" fill="#2424c0" fill-opacity="0.57"/><polygon points="290.1,636.1 292.1,638.8 288.2,638.8" fill="#2424c0" fill-opacity="0.32"/><polygon points="268.1,764.5 271.0,766.6 265.2,766.6" fill="#2424c0" fill-opacity="0.61"/><polygon points="196.3,617.5 198.0,620.0 194.5,620.0" fill="#2424c0" fill-opacity="0.49"/><polygon points="391.4,751.4 394.3,753.6 388.5,753.6" fill="#2424c0" fill-opacity="0.32"/><polygon points="206.8,595.8 209.2,597.9 204.4,597.9" fill="#2626c8" fill-opacity="0.66"/><polygon points="208.5,541.2 210.9,545.1 206.2,545.1" fill="#2626c8" fill-opacity="0.65"/><polygon points="208.5,736.0 210.7,737.6 206.3,737.6" fill="#2626c8" fill-opacity="0.60"/><polygon points="225.6,556.6 227.4,560.5 223.8,560.5" fill="#2626c8" fill-opacity="0.75"/><polygon points="214.1,598.3 215.3,601.6 212.8,601.6" fill="#2626c8" fill-opacity="0.70"/><polygon points="224.1,602.9 225.8,606.1 222.5,606.1" fill="#2626c8" fill-opacity="0.69"/><polygon points="210.1,546.6 211.3,550.2 208.8,550.2" fill="#2626c8" fill-opacity="0.60"/><polygon points="214.9,675.1 216.5,677.5 213.4,677.5" fill="#2626c8" fill-opacity="0.47"/><polygon points="224.8,554.8 226.8,557.8 222.7,557.8" fill="#2626c8" fill-opacity="0.65"/><polygon points="212.3,702.9 214.2,706.6 210.4,706.6" fill="#2626c8" fill-opacity="0.79"/><polygon points="204.4,612.4 206.0,614.9 202.7,614.9" fill="#2626c8" fill-opacity="0.66"/><polygon points="220.4,606.2 221.9,609.8 218.9,609.8" fill="#2626c8" fill-opacity="0.72"/><polygon points="207.1,615.4 209.1,617.6 205.1,617.6" fill="#2626c8" fill-opacity="0.53"/><polygon points="200.2,547.5 202.4,551.3 198.0,551.3" fill="#2626c8" fill-opacity="0.52"/><polygon points="211.1,557.3 213.1,561.0 209.2,561.0" fill="#2626c8" fill-opacity="0.43"/><polygon points="216.8,585.0 218.9,587.1 214.6,587.1" fill="#2626c8" fill-opacity="0.75"/><polygon points="208.5,572.2 210.0,574.8 207.1,574.8" fill="#2626c8" fill-opacity="0.51"/><polygon points="221.2,694.1 222.3,697.2 220.2,697.2" fill="#2626c8" fill-opacity="0.72"/><polygon points="211.6,552.3 212.7,555.8 210.5,555.8" fill="#2626c8" fill-opacity="0.64"/><polygon points="218.6,528.5 220.3,531.5 217.0,531.5" fill="#2626c8" fill-opacity="0.53"/><polygon points="222.2,607.6 224.6,610.0 219.7,610.0" fill="#2626c8" fill-opacity="0.77"/><polygon points="215.8,727.6 217.7,729.4 214.0,729.4" fill="#2626c8" fill-opacity="0.72"/><polygon points="222.6,548.0 223.8,550.6 221.5,550.6" fill="#2626c8" fill-opacity="0.46"/><polygon points="219.5,754.4 221.3,758.1 217.6,758.1" fill="#2626c8" fill-opacity="0.78"/><polygon points="214.6,634.6 216.7,637.7 212.4,637.7" fill="#2626c8" fill-opacity="0.46"/><polygon points="202.5,648.2 204.1,651.0 200.9,651.0" fill="#2626c8" fill-opacity="0.69"/><polygon points="210.1,709.3 212.4,711.0 207.9,711.0" fill="#2626c8" fill-opacity="0.46"/><polygon points="204.4,535.0 205.6,538.9 203.1,538.9" fill="#2626c8" fill-opacity="0.52"/><polygon points="205.7,655.5 207.1,658.9 204.3,658.9" fill="#2626c8" fill-opacity="0.53"/><polygon points="217.3,722.7 219.6,724.2 215.1,724.2" fill="#2626c8" fill-opacity="0.62"/><polygon points="227.8,540.7 229.2,544.1 226.4,544.1" fill="#2626c8" fill-opacity="0.64"/><polygon points="223.2,679.9 224.8,682.7 221.5,682.7" fill="#2626c8" fill-opacity="0.48"/><polygon points="208.0,682.9 209.2,684.7 206.8,684.7" fill="#2626c8" fill-opacity="0.48"/><polygon points="215.4,650.1 217.3,651.6 213.6,651.6" fill="#2626c8" fill-opacity="0.79"/><polygon points="218.0,560.9 220.2,564.8 215.8,564.8" fill="#2626c8" fill-opacity="0.47"/><polygon points="207.3,699.6 209.5,703.4 205.1,703.4" fill="#2626c8" fill-opacity="0.48"/><polygon points="217.5,577.9 219.8,581.7 215.1,581.7" fill="#2626c8" fill-opacity="0.59"/><polygon points="217.3,555.5 218.8,557.6 215.8,557.6" fill="#2626c8" fill-opacity="0.66"/><polygon points="211.4,626.7 213.1,629.4 209.7,629.4" fill="#2626c8" fill-opacity="0.55"/><polygon points="200.4,630.3 202.4,633.6 198.4,633.6" fill="#2626c8" fill-opacity="0.53"/><polygon points="209.9,536.1 211.5,538.5 208.3,538.5" fill="#2626c8" fill-opacity="0.41"/><polygon points="212.2,542.6 213.8,546.4 210.5,546.4" fill="#2626c8" fill-opacity="0.74"/><polygon points="220.9,611.7 222.3,613.5 219.4,613.5" fill="#2626c8" fill-opacity="0.64"/><polygon points="215.3,720.7 216.9,722.7 213.7,722.7" fill="#2626c8" fill-opacity="0.44"/><polygon points="227.6,578.1 229.6,581.5 225.5,581.5" fill="#2626c8" fill-opacity="0.43"/><polygon points="215.3,568.4 216.8,571.8 213.8,571.8" fill="#2626c8" fill-opacity="0.69"/><polygon points="211.1,606.9 212.8,610.4 209.4,610.4" fill="#2626c8" fill-opacity="0.50"/><polygon points="222.3,713.0 224.7,716.0 219.9,716.0" fill="#2626c8" fill-opacity="0.78"/><polygon points="218.5,754.5 219.8,758.0 217.2,758.0" fill="#2626c8" fill-opacity="0.45"/><polygon points="212.1,594.6 213.8,598.2 210.5,598.2" fill="#2626c8" fill-opacity="0.67"/><polygon points="218.9,727.1 220.7,728.8 217.1,728.8" fill="#2626c8" fill-opacity="0.51"/><polygon points="230.4,592.0 232.0,595.8 228.7,595.8" fill="#2626c8" fill-opacity="0.64"/><polygon points="215.3,582.6 217.4,585.0 213.2,585.0" fill="#2626c8" fill-opacity="0.49"/><polygon points="211.2,540.1 212.3,542.6 210.1,542.6" fill="#2626c8" fill-opacity="0.62"/><polygon points="205.7,592.3 206.7,595.5 204.6,595.5" fill="#2626c8" fill-opacity="0.53"/><polygon points="220.1,639.8 221.6,642.0 218.5,642.0" fill="#2626c8" fill-opacity="0.42"/><polygon points="212.1,552.0 213.1,554.7 211.0,554.7" fill="#2626c8" fill-opacity="0.41"/><polygon points="220.4,729.3 222.0,731.9 218.9,731.9" fill="#2626c8" fill-opacity="0.61"/><polygon points="217.7,707.5 219.5,710.2 215.8,710.2" fill="#2626c8" fill-opacity="0.54"/><polygon points="214.6,698.8 216.3,702.3 212.8,702.3" fill="#2626c8" fill-opacity="0.73"/><polygon points="224.1,681.5 225.8,684.4 222.4,684.4" fill="#2626c8" fill-opacity="0.63"/><polygon points="206.0,646.2 208.3,649.9 203.8,649.9" fill="#2626c8" fill-opacity="0.42"/><polygon points="214.1,665.2 216.5,666.8 211.8,666.8" fill="#2626c8" fill-opacity="0.59"/><polygon points="202.9,613.2 205.4,615.1 200.5,615.1" fill="#2626c8" fill-opacity="0.63"/><polygon points="222.3,639.2 224.4,641.5 220.2,641.5" fill="#2626c8" fill-opacity="0.75"/><polygon points="224.6,526.3 225.9,529.6 223.2,529.6" fill="#2626c8" fill-opacity="0.75"/><polygon points="215.1,543.5 217.2,546.8 213.0,546.8" fill="#2626c8" fill-opacity="0.42"/><polygon points="207.7,743.3 209.5,744.9 205.9,744.9" fill="#2626c8" fill-opacity="0.59"/><polygon points="212.0,731.6 214.4,733.4 209.6,733.4" fill="#2626c8" fill-opacity="0.58"/><polygon points="217.2,589.7 219.2,591.4 215.2,591.4" fill="#2626c8" fill-opacity="0.53"/><polygon points="206.3,625.1 208.2,629.0 204.5,629.0" fill="#2626c8" fill-opacity="0.77"/><polygon points="218.8,736.4 221.1,738.5 216.6,738.5" fill="#2626c8" fill-opacity="0.50"/><polygon points="202.9,664.7 204.4,668.7 201.4,668.7" fill="#2626c8" fill-opacity="0.52"/><polygon points="216.9,530.5 218.0,532.5 215.7,532.5" fill="#2626c8" fill-opacity="0.69"/><polygon points="215.3,579.5 216.6,583.0 213.9,583.0" fill="#2626c8" fill-opacity="0.76"/><polygon points="212.0,585.2 213.2,589.1 210.9,589.1" fill="#2626c8" fill-opacity="0.79"/><polygon points="212.1,698.5 214.3,701.3 210.0,701.3" fill="#2626c8" fill-opacity="0.51"/><polygon points="205.1,647.5 207.1,649.8 203.2,649.8" fill="#2626c8" fill-opacity="0.66"/><polygon points="226.9,573.1 228.2,577.0 225.5,577.0" fill="#2626c8" fill-opacity="0.78"/><polygon points="230.9,739.0 233.2,742.7 228.7,742.7" fill="#2626c8" fill-opacity="0.73"/><polygon points="211.1,694.2 213.4,697.8 208.9,697.8" fill="#2626c8" fill-opacity="0.42"/><polygon points="212.7,539.5 214.8,542.2 210.6,542.2" fill="#2626c8" fill-opacity="0.76"/><polygon points="222.7,681.5 224.7,684.7 220.7,684.7" fill="#2626c8" fill-opacity="0.55"/><polygon points="213.5,672.6 214.6,676.4 212.4,676.4" fill="#2626c8" fill-opacity="0.69"/><polygon points="216.9,572.4 218.6,575.6 215.2,575.6" fill="#2626c8" fill-opacity="0.62"/><polygon points="205.6,550.7 206.6,553.2 204.6,553.2" fill="#2626c8" fill-opacity="0.50"/><polygon points="214.8,620.7 216.9,624.4 212.8,624.4" fill="#2626c8" fill-opacity="0.67"/><polygon points="219.6,529.8 221.9,532.8 217.3,532.8" fill="#2626c8" fill-opacity="0.69"/><polygon points="208.3,603.5 209.5,606.7 207.2,606.7" fill="#2626c8" fill-opacity="0.42"/><polygon points="209.1,682.8 211.5,686.0 206.7,686.0" fill="#2626c8" fill-opacity="0.64"/><polygon points="221.2,713.9 223.7,716.5 218.8,716.5" fill="#2626c8" fill-opacity="0.41"/><polygon points="195.1,666.9 197.0,670.5 193.1,670.5" fill="#2626c8" fill-opacity="0.64"/><polygon points="213.5,716.7 215.4,720.7 211.6,720.7" fill="#2626c8" fill-opacity="0.64"/><polygon points="214.6,721.9 216.7,725.8 212.4,725.8" fill="#2626c8" fill-opacity="0.58"/><polygon points="220.4,528.2 221.9,530.6 218.9,530.6" fill="#2626c8" fill-opacity="0.80"/><polygon points="209.2,616.4 210.6,619.6 207.7,619.6" fill="#2626c8" fill-opacity="0.44"/><polygon points="211.3,554.3 213.2,556.8 209.4,556.8" fill="#2626c8" fill-opacity="0.72"/><polygon points="221.5,604.8 224.0,606.8 219.1,606.8" fill="#2626c8" fill-opacity="0.61"/><polygon points="214.2,595.7 216.5,598.0 211.9,598.0" fill="#2626c8" fill-opacity="0.60"/><polygon points="215.3,646.7 216.7,649.6 213.9,649.6" fill="#2626c8" fill-opacity="0.43"/><polygon points="210.2,713.9 212.3,717.2 208.0,717.2" fill="#2626c8" fill-opacity="0.64"/><polygon points="219.3,727.4 221.4,729.0 217.2,729.0" fill="#2626c8" fill-opacity="0.45"/><polygon points="213.8,755.6 216.0,757.5 211.6,757.5" fill="#2626c8" fill-opacity="0.63"/><polygon points="198.7,671.0 200.6,672.8 196.8,672.8" fill="#2626c8" fill-opacity="0.79"/><polygon points="207.7,753.9 209.3,755.6 206.1,755.6" fill="#2626c8" fill-opacity="0.67"/><polygon points="213.6,586.0 214.9,588.3 212.3,588.3" fill="#2626c8" fill-opacity="0.64"/><polygon points="209.0,734.3 211.5,738.0 206.5,738.0" fill="#2626c8" fill-opacity="0.77"/><polygon points="224.7,585.0 226.9,586.7 222.5,586.7" fill="#2626c8" fill-opacity="0.63"/><polygon points="217.3,744.8 218.4,748.1 216.1,748.1" fill="#2626c8" fill-opacity="0.61"/><polygon points="215.7,526.6 217.9,528.3 213.5,528.3" fill="#2626c8" fill-opacity="0.75"/><polygon points="217.9,628.3 219.0,631.5 216.9,631.5" fill="#2626c8" fill-opacity="0.42"/><polygon points="205.5,646.9 207.9,650.1 203.1,650.1" fill="#2626c8" fill-opacity="0.45"/><polygon points="211.7,601.4 213.9,604.4 209.6,604.4" fill="#2626c8" fill-opacity="0.57"/><polygon points="201.8,647.8 203.2,650.0 200.3,650.0" fill="#2626c8" fill-opacity="0.76"/><polygon points="206.0,611.6 207.2,613.1 204.7,613.1" fill="#2626c8" fill-opacity="0.79"/><polygon points="225.1,699.4 227.6,702.4 222.7,702.4" fill="#2626c8" fill-opacity="0.42"/><polygon points="215.3,666.2 217.3,670.0 213.4,670.0" fill="#2626c8" fill-opacity="0.52"/><polygon points="216.2,580.3 217.5,582.1 214.8,582.1" fill="#2626c8" fill-opacity="0.41"/><polygon points="205.7,611.1 208.1,613.4 203.2,613.4" fill="#2626c8" fill-opacity="0.73"/><polygon points="214.3,650.0 215.5,651.5 213.2,651.5" fill="#2626c8" fill-opacity="0.64"/><polygon points="215.8,687.7 217.2,690.9 214.5,690.9" fill="#2626c8" fill-opacity="0.73"/><polygon points="212.2,694.8 213.5,696.7 210.8,696.7" fill="#2626c8" fill-opacity="0.79"/><polygon points="229.6,651.1 230.7,653.5 228.6,653.5" fill="#2626c8" fill-opacity="0.76"/><polygon points="204.8,541.9 206.3,543.5 203.4,543.5" fill="#2626c8" fill-opacity="0.75"/><polygon points="212.0,608.0 213.3,610.6 210.7,610.6" fill="#2626c8" fill-opacity="0.65"/><polygon points="216.6,677.8 217.8,680.7 215.5,680.7" fill="#2626c8" fill-opacity="0.42"/><polygon points="200.4,586.8 202.7,588.9 198.2,588.9" fill="#2626c8" fill-opacity="0.56"/><polygon points="219.2,709.0 220.2,711.8 218.2,711.8" fill="#2626c8" fill-opacity="0.61"/><polygon points="209.7,687.1 211.1,689.1 208.4,689.1" fill="#2626c8" fill-opacity="0.59"/><polygon points="195.0,591.6 196.9,593.3 193.2,593.3" fill="#2626c8" fill-opacity="0.68"/>
</g>
<g shape-rendering="crispEdges" stroke-linecap="square">
<line x1="140.5" y1="134.5" x2="571.5" y2="133.5" stroke="#000" stroke-width="1"/>
<line x1="571.5" y1="133.5" x2="734.5" y2="242.5" stroke="#000" stroke-width="1"/>
<line x1="734.5" y1="242.5" x2="89.5" y2="250.5" stroke="#000" stroke-width="1"/>
<line x1="89.5" y1="250.5" x2="140.5" y2="134.5" stroke="#000" stroke-width="1"/>
<line x1="141.2" y1="137.5" x2="165.4" y2="523" stroke="#000" stroke-width="1"/>
<line x1="571" y1="134" x2="541.5" y2="509" stroke="#000" stroke-width="1"/>
<line x1="734.5" y1="242.5" x2="664" y2="752.2" stroke="#000" stroke-width="1"/>
<line x1="89.5" y1="250.5" x2="133.5" y2="784.9" stroke="#000" stroke-width="1"/>
<line x1="165" y1="523.4" x2="541.4" y2="509.3" stroke="#000" stroke-width="1"/>
<line x1="165" y1="523.4" x2="133.5" y2="784.9" stroke="#000" stroke-width="1"/>
<line x1="541.4" y1="509.3" x2="664" y2="752.2" stroke="#000" stroke-width="1"/>
<line x1="133.5" y1="784.9" x2="664" y2="752.2" stroke="#000" stroke-width="1"/>
<line x1="69.5" y1="256.5" x2="118.4" y2="795.2" stroke="#000" stroke-width="1"/>
<line x1="71.3" y1="273.3" x2="60" y2="275.1" stroke="#000" stroke-width="1"/>
<line x1="76.8" y1="342.6" x2="67.3" y2="345.7" stroke="#000" stroke-width="1"/>
<line x1="83.4" y1="408.5" x2="73.3" y2="411.3" stroke="#000" stroke-width="1"/>
<line x1="88.9" y1="471.5" x2="79.3" y2="474.6" stroke="#000" stroke-width="1"/>
<line x1="94.5" y1="531.6" x2="84.1" y2="535.7" stroke="#000" stroke-width="1"/>
<line x1="99.5" y1="588.7" x2="90.1" y2="593.5" stroke="#000" stroke-width="1"/>
<line x1="104.4" y1="643.1" x2="94.9" y2="648.8" stroke="#000" stroke-width="1"/>
<line x1="109.3" y1="696.6" x2="100.1" y2="701.2" stroke="#000" stroke-width="1"/>
<line x1="113.8" y1="747" x2="105.2" y2="751.9" stroke="#000" stroke-width="1"/>
<line x1="118.4" y1="795.2" x2="110.2" y2="800.7" stroke="#000" stroke-width="1"/>
<path d="M38.5,216.8 L41.1,213.4 L45.3,212.3 L48.5,213.4 L49.3,220.2 L46.6,223.1 L39.6,224.4 L38.5,216.8 M39.6,224.4 L32.5,225.7 L29.6,224.7 L28.3,218.4" fill="none" stroke="#000"/>
<polygon points="30.4,237.8 35.1,231.5 44.8,229.4 50.6,232.5 50.6,235.4 45.6,240.4 36.4,242.2 31.7,240.1" fill="none" stroke="#000" stroke-width="1"/>
<polygon points="32.0,253.9 36.7,247.6 46.4,245.5 52.2,248.6 52.2,251.5 47.2,256.4 38.0,258.2 33.3,256.1" fill="none" stroke="#000" stroke-width="1"/>
<polygon points="33.6,269.9 38.3,263.6 48.0,261.5 53.8,264.6 53.8,267.5 48.8,272.5 39.6,274.3 34.9,272.2" fill="none" stroke="#000" stroke-width="1"/>
<polygon points="35.2,286.0 39.9,279.6 49.6,277.6 55.4,280.6 55.4,283.6 50.4,288.6 41.2,290.4 36.5,288.2" fill="none" stroke="#000" stroke-width="1"/>
<polygon points="36.8,302.0 41.5,295.7 51.2,293.6 57.0,296.7 57.0,299.6 52.0,304.6 42.8,306.4 38.1,304.3" fill="none" stroke="#000" stroke-width="1"/>
<polygon points="38.4,318.1 43.1,311.8 52.8,309.6 58.6,312.8 58.6,315.6 53.6,320.6 44.4,322.4 39.7,320.4" fill="none" stroke="#000" stroke-width="1"/>
<polygon points="40.0,334.1 44.7,327.8 54.4,325.7 60.2,328.8 60.2,331.7 55.2,336.7 46.0,338.5 41.3,336.4" fill="none" stroke="#000" stroke-width="1"/>
<path d="M43.5,580.5 L42.5,579.5 L42.5,572.5 L53.5,574.5 L53.5,567" fill="none" stroke="#000"/>
<line x1="156.5" y1="532.3" x2="121.6" y2="795.5" stroke="#000" stroke-width="1"/>
<line x1="156.5" y1="532.3" x2="151.3" y2="537.8" stroke="#000" stroke-width="1"/>
<line x1="151.8" y1="565.5" x2="147.2" y2="569.8" stroke="#000" stroke-width="1"/>
<line x1="147.3" y1="601.5" x2="141" y2="606.7" stroke="#000" stroke-width="1"/>
<line x1="142.5" y1="641" x2="135.9" y2="646.8" stroke="#000" stroke-width="1"/>
<line x1="135.9" y1="684.6" x2="128.7" y2="692.6" stroke="#000" stroke-width="1"/>
<line x1="128.7" y1="737.6" x2="122.4" y2="744.2" stroke="#000" stroke-width="1"/>
<line x1="121.6" y1="795.5" x2="114.1" y2="802.6" stroke="#000" stroke-width="1"/>
<line x1="133.4" y1="805" x2="667.5" y2="771.5" stroke="#000" stroke-width="1"/>
<line x1="133.4" y1="805.0" x2="133.70000000000002" y2="816.2" stroke="#000" stroke-width="1"/>
<line x1="195.6" y1="801.0986706609249" x2="195.9" y2="812.2986706609249" stroke="#000" stroke-width="1"/>
<line x1="257.3" y1="797.2287024901703" x2="257.6" y2="808.4287024901704" stroke="#000" stroke-width="1"/>
<line x1="317.5" y1="793.4528178243775" x2="317.8" y2="804.6528178243775" stroke="#000" stroke-width="1"/>
<line x1="378" y1="789.6581164575922" x2="378.3" y2="800.8581164575922" stroke="#000" stroke-width="1"/>
<line x1="437.5" y1="785.926137427448" x2="437.8" y2="797.126137427448" stroke="#000" stroke-width="1"/>
<line x1="495.4" y1="782.2945141359296" x2="495.7" y2="793.4945141359296" stroke="#000" stroke-width="1"/>
<line x1="553.2" y1="778.6691630780753" x2="553.5" y2="789.8691630780753" stroke="#000" stroke-width="1"/>
<line x1="610.7" y1="775.0626287212133" x2="611.0" y2="786.2626287212133" stroke="#000" stroke-width="1"/>
<line x1="667.5" y1="771.5" x2="667.8" y2="782.7" stroke="#000" stroke-width="1"/>
<path d="M115.2,825.6 L117.5,823.3 L117.5,843.6 M114.1,843.6 L119.9,843.6" fill="none" stroke="#000"/>
<polygon points="130.0,822.2 131.8,822.2 135.5,826.5 135.5,837.1 131.6,842.4 130.2,842.4 126.4,837.5 126.4,827.0" fill="none" stroke="#000" stroke-width="1"/>
<polygon points="143.3,821.2 145.7,821.2 148.6,825.3 148.6,836.5 145.0,841.5 143.5,841.5 140.4,837.0 140.4,825.9" fill="none" stroke="#000" stroke-width="1"/>
<path d="M646.8,791.5 L649.2,789.2 L651.3,807 M649.8,808.6 L653.6,807.6" fill="none" stroke="#000"/>
<polygon points="661.1,788.3 665.5,792.2 666.5,797.7 666.2,803.8 663.4,807.6 659.0,802.4 658.0,795.6 657.5,793.5 659.4,789.2" fill="none" stroke="#000" stroke-width="1"/>
<polygon points="673.0,787.1 677.4,791.5 678.4,797.0 678.4,803.8 676.1,806.4 671.6,802.4 670.3,797.0 670.6,790.5" fill="none" stroke="#000" stroke-width="1"/>
<polygon points="684.9,786.4 689.7,790.9 691.4,798.4 690.7,801.8 688.0,805.5 683.9,801.8 682.5,796.3 683.2,789.2" fill="none" stroke="#000" stroke-width="1"/>
<line x1="403.2" y1="836.3" x2="412.9" y2="847.6" stroke="#000" stroke-width="1"/>
<line x1="411.7" y1="836.3" x2="404.2" y2="848.5" stroke="#000" stroke-width="1"/>
<polygon points="100.5,801.5 105.5,801.5 105.5,803.0 102.0,807.5 96.0,812.0 90.5,812.0 90.5,810.0 93.0,806.0 97.5,803.5" fill="none" stroke="#000" stroke-width="1"/>
<polygon points="107.5,804.3 110.5,804.0 110.5,805.5 108.5,808.0 102.0,815.3 98.6,815.5 98.6,814.0 99.5,812.5 101.0,811.0" fill="none" stroke="#000" stroke-width="1"/>
<path d="M139.5,549.5 L141,548 L141,546 L146,542 L148.5,541.5 M141,546 L148.5,539 L149,536.5 L148,536.5 M140.5,549.5 L147,543" fill="none" stroke="#000"/>
<path d="M105.3,675.4 L107.5,675.4 L116.9,662.1 M109.5,671.5 L115.9,666" fill="none" stroke="#000"/>
</g>
<polygon points="358,271 358,300 357,320 356,360 355.2,432 355,500 353.5,560 352.9,600 352,650 351,700 350.5,712 360,712 359.5,700 359.5,650 359,600 359.2,560 359.3,500 359.6,432 360,360 360,300 359,271" fill="url(#gMain)"/><line x1="357.5" y1="440" x2="357.5" y2="705" stroke="#3a2a9a" stroke-opacity="0.45"/><polygon points="203,462 203,476 204,515 205.5,560 206.5,615 207.5,660 208.5,700 209,726 218,726 216,700 214,660 212.6,615 210,560 207,515 205,476 204,462" fill="url(#gBlack)"/><rect x="202" y="447" width="1" height="9" fill="#000008"/><rect x="215" y="517" width="1" height="1" fill="#000"/><polygon points="213.5,700 218.5,727 208.5,727" fill="#2424c0" fill-opacity="0.8"/><line x1="216.4" y1="535.6" x2="220.8" y2="759" stroke="#05052a" stroke-width="1.2"/><polygon points="354.5,508 355.7,700 353.3,700" fill="url(#gDark)"/><polygon points="332.4,500.5 334.6,591.4 330.2,591.4" fill="url(#gLite)"/><polygon points="332.4,583.4 336.4,591.9 328.4,591.9" fill="#2a2ac8" fill-opacity="0.8"/><polygon points="323.2,509.8 325.2,524 321.2,524" fill="url(#gLite)"/><polygon points="323.2,519.7 326.8,524.5 319.6,524.5" fill="#2a2ac8" fill-opacity="0.8"/><polygon points="348.2,540 351.8,695.5 344.6,695.5" fill="url(#gLite)"/><polygon points="348.2,687.5 354.7,696.0 341.7,696.0" fill="#2a2ac8" fill-opacity="0.8"/><polygon points="327.7,637.5 330.7,714 324.7,714" fill="url(#gLite)"/><polygon points="327.7,706.0 333.1,714.5 322.3,714.5" fill="#2a2ac8" fill-opacity="0.8"/><polygon points="334.2,582 336.2,606 332.2,606" fill="url(#gLite)"/><polygon points="334.2,598.8 337.8,606.5 330.6,606.5" fill="#2a2ac8" fill-opacity="0.8"/><polygon points="363.2,592.7 365.2,612.5 361.2,612.5" fill="url(#gLite)"/><polygon points="363.2,606.6 366.8,613.0 359.6,613.0" fill="#2a2ac8" fill-opacity="0.8"/><polygon points="367.2,595.4 369.7,632.3 364.7,632.3" fill="url(#gLite)"/><polygon points="367.2,624.3 371.7,632.8 362.7,632.8" fill="#2a2ac8" fill-opacity="0.8"/><polygon points="382.5,577 384.5,586 380.5,586" fill="url(#gLite)"/><polygon points="382.5,583.3 386.1,586.5 378.9,586.5" fill="#2a2ac8" fill-opacity="0.8"/><polygon points="383.8,627 386.3,654.6 381.3,654.6" fill="url(#gLite)"/><polygon points="383.8,646.6 388.3,655.1 379.3,655.1" fill="#2a2ac8" fill-opacity="0.8"/><polygon points="404.0,658.6 406.5,686.3 401.5,686.3" fill="url(#gLite)"/><polygon points="404.0,678.3 408.5,686.8 399.5,686.8" fill="#2a2ac8" fill-opacity="0.8"/><polygon points="378.5,596.7 380.5,604.6 376.5,604.6" fill="url(#gLite)"/><polygon points="378.5,602.2 382.1,605.1 374.9,605.1" fill="#2a2ac8" fill-opacity="0.8"/><polygon points="277.8,608 280.3,645 275.3,645" fill="url(#gLite)"/><polygon points="277.8,637.0 282.3,645.5 273.3,645.5" fill="#2a2ac8" fill-opacity="0.8"/><polygon points="282.0,655.6 285.0,722.7 279.0,722.7" fill="url(#gLite)"/><polygon points="282.0,714.7 287.4,723.2 276.6,723.2" fill="#2a2ac8" fill-opacity="0.8"/><polygon points="274.7,709 277.7,750 271.7,750" fill="url(#gLite)"/><polygon points="274.7,742.0 280.1,750.5 269.3,750.5" fill="#2a2ac8" fill-opacity="0.8"/><polygon points="333.0,729 336.0,763.5 330.0,763.5" fill="url(#gLite)"/><polygon points="333.0,755.5 338.4,764.0 327.6,764.0" fill="#2a2ac8" fill-opacity="0.8"/><polygon points="360.6,707 363.6,749 357.6,749" fill="url(#gLite)"/><polygon points="360.6,741.0 366.0,749.5 355.2,749.5" fill="#2a2ac8" fill-opacity="0.8"/><polygon points="363.8,721.6 366.8,757 360.8,757" fill="url(#gLite)"/><polygon points="363.8,749.0 369.2,757.5 358.4,757.5" fill="#2a2ac8" fill-opacity="0.8"/><polygon points="395.0,690 397.5,735 392.5,735" fill="url(#gLite)"/><polygon points="395.0,727.0 399.5,735.5 390.5,735.5" fill="#2a2ac8" fill-opacity="0.8"/><polygon points="222.5,735 225.0,758.5 220.0,758.5" fill="url(#gLite)"/><polygon points="222.5,751.5 227.0,759.0 218.0,759.0" fill="#2a2ac8" fill-opacity="0.8"/><path d="M571.3,688.4 L572.3,688.6 C572.8,696 573.2,705 574.5,714 C576,721 578.5,726 581.7,728.9 L554.4,730.1 C558.5,727 562,722 563.8,716 C566,708 568,700 571.3,688.4 Z" fill="url(#gCone)"/><path d="M571.3,688.4 C568,700 566,708 563.8,716 C562,722 558.5,727 554.4,730.1" fill="none" stroke="#000020" stroke-width="1" stroke-opacity="0.8"/>
</svg>
<div class="t">texture on, CurvedSize = 0.1</div>
</body></html>
